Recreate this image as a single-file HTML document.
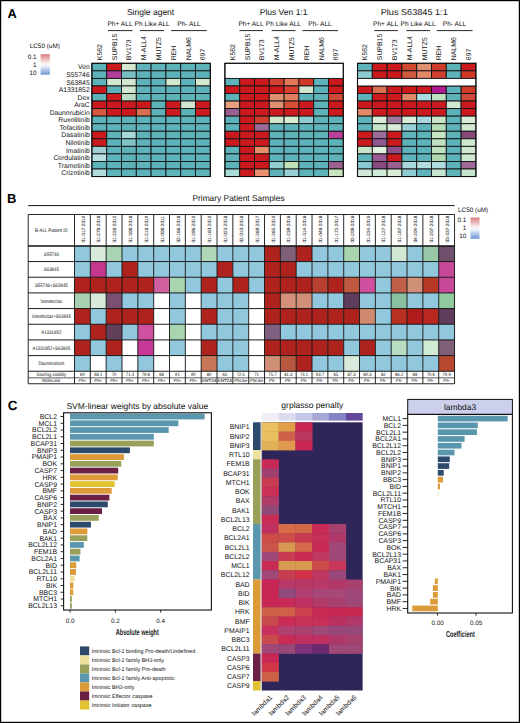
<!DOCTYPE html>
<html><head><meta charset="utf-8"><style>
html,body{margin:0;padding:0;background:#fff;}
body{width:520px;height:723px;overflow:hidden;}
svg{display:block;font-family:"Liberation Sans", sans-serif;text-rendering:geometricPrecision;}
</style></head><body>
<svg width="520" height="723" viewBox="0 0 520 723">
<rect x="0" y="0" width="520" height="723" fill="#fff"/>
<rect x="91.90" y="63.30" width="14.80" height="7.55" fill="#5eb3ba" stroke="#111" stroke-width="0.9"/>
<rect x="106.70" y="63.30" width="14.80" height="7.55" fill="#cb1a1d" stroke="#111" stroke-width="0.9"/>
<rect x="121.50" y="63.30" width="14.80" height="7.55" fill="#d3e7d0" stroke="#111" stroke-width="0.9"/>
<rect x="136.30" y="63.30" width="14.80" height="7.55" fill="#5eb3ba" stroke="#111" stroke-width="0.9"/>
<rect x="151.10" y="63.30" width="14.80" height="7.55" fill="#5eb3ba" stroke="#111" stroke-width="0.9"/>
<rect x="165.90" y="63.30" width="14.80" height="7.55" fill="#5eb3ba" stroke="#111" stroke-width="0.9"/>
<rect x="180.70" y="63.30" width="14.80" height="7.55" fill="#5eb3ba" stroke="#111" stroke-width="0.9"/>
<rect x="195.50" y="63.30" width="14.80" height="7.55" fill="#5eb3ba" stroke="#111" stroke-width="0.9"/>
<rect x="91.90" y="70.85" width="14.80" height="7.55" fill="#5eb3ba" stroke="#111" stroke-width="0.9"/>
<rect x="106.70" y="70.85" width="14.80" height="7.55" fill="#b0409a" stroke="#111" stroke-width="0.9"/>
<rect x="121.50" y="70.85" width="14.80" height="7.55" fill="#78bcc4" stroke="#111" stroke-width="0.9"/>
<rect x="136.30" y="70.85" width="14.80" height="7.55" fill="#5eb3ba" stroke="#111" stroke-width="0.9"/>
<rect x="151.10" y="70.85" width="14.80" height="7.55" fill="#5eb3ba" stroke="#111" stroke-width="0.9"/>
<rect x="165.90" y="70.85" width="14.80" height="7.55" fill="#5eb3ba" stroke="#111" stroke-width="0.9"/>
<rect x="180.70" y="70.85" width="14.80" height="7.55" fill="#5eb3ba" stroke="#111" stroke-width="0.9"/>
<rect x="195.50" y="70.85" width="14.80" height="7.55" fill="#5eb3ba" stroke="#111" stroke-width="0.9"/>
<rect x="91.90" y="78.40" width="14.80" height="7.55" fill="#5eb3ba" stroke="#111" stroke-width="0.9"/>
<rect x="106.70" y="78.40" width="14.80" height="7.55" fill="#d3e7d0" stroke="#111" stroke-width="0.9"/>
<rect x="121.50" y="78.40" width="14.80" height="7.55" fill="#d3e7d0" stroke="#111" stroke-width="0.9"/>
<rect x="136.30" y="78.40" width="14.80" height="7.55" fill="#5eb3ba" stroke="#111" stroke-width="0.9"/>
<rect x="151.10" y="78.40" width="14.80" height="7.55" fill="#5eb3ba" stroke="#111" stroke-width="0.9"/>
<rect x="165.90" y="78.40" width="14.80" height="7.55" fill="#d3e7d0" stroke="#111" stroke-width="0.9"/>
<rect x="180.70" y="78.40" width="14.80" height="7.55" fill="#5eb3ba" stroke="#111" stroke-width="0.9"/>
<rect x="195.50" y="78.40" width="14.80" height="7.55" fill="#d3e7d0" stroke="#111" stroke-width="0.9"/>
<rect x="91.90" y="85.95" width="14.80" height="7.55" fill="#cb1a1d" stroke="#111" stroke-width="0.9"/>
<rect x="106.70" y="85.95" width="14.80" height="7.55" fill="#5eb3ba" stroke="#111" stroke-width="0.9"/>
<rect x="121.50" y="85.95" width="14.80" height="7.55" fill="#d3e7d0" stroke="#111" stroke-width="0.9"/>
<rect x="136.30" y="85.95" width="14.80" height="7.55" fill="#5eb3ba" stroke="#111" stroke-width="0.9"/>
<rect x="151.10" y="85.95" width="14.80" height="7.55" fill="#5eb3ba" stroke="#111" stroke-width="0.9"/>
<rect x="165.90" y="85.95" width="14.80" height="7.55" fill="#5eb3ba" stroke="#111" stroke-width="0.9"/>
<rect x="180.70" y="85.95" width="14.80" height="7.55" fill="#5eb3ba" stroke="#111" stroke-width="0.9"/>
<rect x="195.50" y="85.95" width="14.80" height="7.55" fill="#5eb3ba" stroke="#111" stroke-width="0.9"/>
<rect x="91.90" y="93.50" width="14.80" height="7.55" fill="#5eb3ba" stroke="#111" stroke-width="0.9"/>
<rect x="106.70" y="93.50" width="14.80" height="7.55" fill="#cb1a1d" stroke="#111" stroke-width="0.9"/>
<rect x="121.50" y="93.50" width="14.80" height="7.55" fill="#bcdcc2" stroke="#111" stroke-width="0.9"/>
<rect x="136.30" y="93.50" width="14.80" height="7.55" fill="#5eb3ba" stroke="#111" stroke-width="0.9"/>
<rect x="151.10" y="93.50" width="14.80" height="7.55" fill="#5eb3ba" stroke="#111" stroke-width="0.9"/>
<rect x="165.90" y="93.50" width="14.80" height="7.55" fill="#5eb3ba" stroke="#111" stroke-width="0.9"/>
<rect x="180.70" y="93.50" width="14.80" height="7.55" fill="#5eb3ba" stroke="#111" stroke-width="0.9"/>
<rect x="195.50" y="93.50" width="14.80" height="7.55" fill="#5eb3ba" stroke="#111" stroke-width="0.9"/>
<rect x="91.90" y="101.05" width="14.80" height="7.55" fill="#cb1a1d" stroke="#111" stroke-width="0.9"/>
<rect x="106.70" y="101.05" width="14.80" height="7.55" fill="#cb1a1d" stroke="#111" stroke-width="0.9"/>
<rect x="121.50" y="101.05" width="14.80" height="7.55" fill="#cb1a1d" stroke="#111" stroke-width="0.9"/>
<rect x="136.30" y="101.05" width="14.80" height="7.55" fill="#cb1a1d" stroke="#111" stroke-width="0.9"/>
<rect x="151.10" y="101.05" width="14.80" height="7.55" fill="#5eb3ba" stroke="#111" stroke-width="0.9"/>
<rect x="165.90" y="101.05" width="14.80" height="7.55" fill="#cb1a1d" stroke="#111" stroke-width="0.9"/>
<rect x="180.70" y="101.05" width="14.80" height="7.55" fill="#d3e7d0" stroke="#111" stroke-width="0.9"/>
<rect x="195.50" y="101.05" width="14.80" height="7.55" fill="#cb1a1d" stroke="#111" stroke-width="0.9"/>
<rect x="91.90" y="108.60" width="14.80" height="7.55" fill="#d65a40" stroke="#111" stroke-width="0.9"/>
<rect x="106.70" y="108.60" width="14.80" height="7.55" fill="#cb1a1d" stroke="#111" stroke-width="0.9"/>
<rect x="121.50" y="108.60" width="14.80" height="7.55" fill="#cb1a1d" stroke="#111" stroke-width="0.9"/>
<rect x="136.30" y="108.60" width="14.80" height="7.55" fill="#d87050" stroke="#111" stroke-width="0.9"/>
<rect x="151.10" y="108.60" width="14.80" height="7.55" fill="#5eb3ba" stroke="#111" stroke-width="0.9"/>
<rect x="165.90" y="108.60" width="14.80" height="7.55" fill="#cb1a1d" stroke="#111" stroke-width="0.9"/>
<rect x="180.70" y="108.60" width="14.80" height="7.55" fill="#5eb3ba" stroke="#111" stroke-width="0.9"/>
<rect x="195.50" y="108.60" width="14.80" height="7.55" fill="#cb1a1d" stroke="#111" stroke-width="0.9"/>
<rect x="91.90" y="116.15" width="14.80" height="7.55" fill="#5eb3ba" stroke="#111" stroke-width="0.9"/>
<rect x="106.70" y="116.15" width="14.80" height="7.55" fill="#5eb3ba" stroke="#111" stroke-width="0.9"/>
<rect x="121.50" y="116.15" width="14.80" height="7.55" fill="#5eb3ba" stroke="#111" stroke-width="0.9"/>
<rect x="136.30" y="116.15" width="14.80" height="7.55" fill="#5eb3ba" stroke="#111" stroke-width="0.9"/>
<rect x="151.10" y="116.15" width="14.80" height="7.55" fill="#5eb3ba" stroke="#111" stroke-width="0.9"/>
<rect x="165.90" y="116.15" width="14.80" height="7.55" fill="#5eb3ba" stroke="#111" stroke-width="0.9"/>
<rect x="180.70" y="116.15" width="14.80" height="7.55" fill="#5eb3ba" stroke="#111" stroke-width="0.9"/>
<rect x="195.50" y="116.15" width="14.80" height="7.55" fill="#5eb3ba" stroke="#111" stroke-width="0.9"/>
<rect x="91.90" y="123.70" width="14.80" height="7.55" fill="#5eb3ba" stroke="#111" stroke-width="0.9"/>
<rect x="106.70" y="123.70" width="14.80" height="7.55" fill="#5eb3ba" stroke="#111" stroke-width="0.9"/>
<rect x="121.50" y="123.70" width="14.80" height="7.55" fill="#5eb3ba" stroke="#111" stroke-width="0.9"/>
<rect x="136.30" y="123.70" width="14.80" height="7.55" fill="#5eb3ba" stroke="#111" stroke-width="0.9"/>
<rect x="151.10" y="123.70" width="14.80" height="7.55" fill="#5eb3ba" stroke="#111" stroke-width="0.9"/>
<rect x="165.90" y="123.70" width="14.80" height="7.55" fill="#5eb3ba" stroke="#111" stroke-width="0.9"/>
<rect x="180.70" y="123.70" width="14.80" height="7.55" fill="#5eb3ba" stroke="#111" stroke-width="0.9"/>
<rect x="195.50" y="123.70" width="14.80" height="7.55" fill="#5eb3ba" stroke="#111" stroke-width="0.9"/>
<rect x="91.90" y="131.25" width="14.80" height="7.55" fill="#cb1a1d" stroke="#111" stroke-width="0.9"/>
<rect x="106.70" y="131.25" width="14.80" height="7.55" fill="#5eb3ba" stroke="#111" stroke-width="0.9"/>
<rect x="121.50" y="131.25" width="14.80" height="7.55" fill="#a8d8d8" stroke="#111" stroke-width="0.9"/>
<rect x="136.30" y="131.25" width="14.80" height="7.55" fill="#5eb3ba" stroke="#111" stroke-width="0.9"/>
<rect x="151.10" y="131.25" width="14.80" height="7.55" fill="#5eb3ba" stroke="#111" stroke-width="0.9"/>
<rect x="165.90" y="131.25" width="14.80" height="7.55" fill="#5eb3ba" stroke="#111" stroke-width="0.9"/>
<rect x="180.70" y="131.25" width="14.80" height="7.55" fill="#5eb3ba" stroke="#111" stroke-width="0.9"/>
<rect x="195.50" y="131.25" width="14.80" height="7.55" fill="#5eb3ba" stroke="#111" stroke-width="0.9"/>
<rect x="91.90" y="138.80" width="14.80" height="7.55" fill="#cb1a1d" stroke="#111" stroke-width="0.9"/>
<rect x="106.70" y="138.80" width="14.80" height="7.55" fill="#5eb3ba" stroke="#111" stroke-width="0.9"/>
<rect x="121.50" y="138.80" width="14.80" height="7.55" fill="#80c4c8" stroke="#111" stroke-width="0.9"/>
<rect x="136.30" y="138.80" width="14.80" height="7.55" fill="#5eb3ba" stroke="#111" stroke-width="0.9"/>
<rect x="151.10" y="138.80" width="14.80" height="7.55" fill="#5eb3ba" stroke="#111" stroke-width="0.9"/>
<rect x="165.90" y="138.80" width="14.80" height="7.55" fill="#5eb3ba" stroke="#111" stroke-width="0.9"/>
<rect x="180.70" y="138.80" width="14.80" height="7.55" fill="#5eb3ba" stroke="#111" stroke-width="0.9"/>
<rect x="195.50" y="138.80" width="14.80" height="7.55" fill="#5eb3ba" stroke="#111" stroke-width="0.9"/>
<rect x="91.90" y="146.35" width="14.80" height="7.55" fill="#a0d0d4" stroke="#111" stroke-width="0.9"/>
<rect x="106.70" y="146.35" width="14.80" height="7.55" fill="#5eb3ba" stroke="#111" stroke-width="0.9"/>
<rect x="121.50" y="146.35" width="14.80" height="7.55" fill="#5eb3ba" stroke="#111" stroke-width="0.9"/>
<rect x="136.30" y="146.35" width="14.80" height="7.55" fill="#5eb3ba" stroke="#111" stroke-width="0.9"/>
<rect x="151.10" y="146.35" width="14.80" height="7.55" fill="#5eb3ba" stroke="#111" stroke-width="0.9"/>
<rect x="165.90" y="146.35" width="14.80" height="7.55" fill="#5eb3ba" stroke="#111" stroke-width="0.9"/>
<rect x="180.70" y="146.35" width="14.80" height="7.55" fill="#5eb3ba" stroke="#111" stroke-width="0.9"/>
<rect x="195.50" y="146.35" width="14.80" height="7.55" fill="#5eb3ba" stroke="#111" stroke-width="0.9"/>
<rect x="91.90" y="153.90" width="14.80" height="7.55" fill="#b8e0e0" stroke="#111" stroke-width="0.9"/>
<rect x="106.70" y="153.90" width="14.80" height="7.55" fill="#5eb3ba" stroke="#111" stroke-width="0.9"/>
<rect x="121.50" y="153.90" width="14.80" height="7.55" fill="#5eb3ba" stroke="#111" stroke-width="0.9"/>
<rect x="136.30" y="153.90" width="14.80" height="7.55" fill="#5eb3ba" stroke="#111" stroke-width="0.9"/>
<rect x="151.10" y="153.90" width="14.80" height="7.55" fill="#5eb3ba" stroke="#111" stroke-width="0.9"/>
<rect x="165.90" y="153.90" width="14.80" height="7.55" fill="#5eb3ba" stroke="#111" stroke-width="0.9"/>
<rect x="180.70" y="153.90" width="14.80" height="7.55" fill="#5eb3ba" stroke="#111" stroke-width="0.9"/>
<rect x="195.50" y="153.90" width="14.80" height="7.55" fill="#5eb3ba" stroke="#111" stroke-width="0.9"/>
<rect x="91.90" y="161.45" width="14.80" height="7.55" fill="#5eb3ba" stroke="#111" stroke-width="0.9"/>
<rect x="106.70" y="161.45" width="14.80" height="7.55" fill="#5eb3ba" stroke="#111" stroke-width="0.9"/>
<rect x="121.50" y="161.45" width="14.80" height="7.55" fill="#5eb3ba" stroke="#111" stroke-width="0.9"/>
<rect x="136.30" y="161.45" width="14.80" height="7.55" fill="#5eb3ba" stroke="#111" stroke-width="0.9"/>
<rect x="151.10" y="161.45" width="14.80" height="7.55" fill="#5eb3ba" stroke="#111" stroke-width="0.9"/>
<rect x="165.90" y="161.45" width="14.80" height="7.55" fill="#5eb3ba" stroke="#111" stroke-width="0.9"/>
<rect x="180.70" y="161.45" width="14.80" height="7.55" fill="#5eb3ba" stroke="#111" stroke-width="0.9"/>
<rect x="195.50" y="161.45" width="14.80" height="7.55" fill="#5eb3ba" stroke="#111" stroke-width="0.9"/>
<rect x="91.90" y="169.00" width="14.80" height="7.55" fill="#b0dcdc" stroke="#111" stroke-width="0.9"/>
<rect x="106.70" y="169.00" width="14.80" height="7.55" fill="#5eb3ba" stroke="#111" stroke-width="0.9"/>
<rect x="121.50" y="169.00" width="14.80" height="7.55" fill="#5eb3ba" stroke="#111" stroke-width="0.9"/>
<rect x="136.30" y="169.00" width="14.80" height="7.55" fill="#5eb3ba" stroke="#111" stroke-width="0.9"/>
<rect x="151.10" y="169.00" width="14.80" height="7.55" fill="#5eb3ba" stroke="#111" stroke-width="0.9"/>
<rect x="165.90" y="169.00" width="14.80" height="7.55" fill="#5eb3ba" stroke="#111" stroke-width="0.9"/>
<rect x="180.70" y="169.00" width="14.80" height="7.55" fill="#5eb3ba" stroke="#111" stroke-width="0.9"/>
<rect x="195.50" y="169.00" width="14.80" height="7.55" fill="#5eb3ba" stroke="#111" stroke-width="0.9"/>
<rect x="91.90" y="63.30" width="118.40" height="113.25" fill="none" stroke="#111" stroke-width="1.1"/>
<text x="150.60" y="14.80" font-size="8.5" text-anchor="middle" fill="#111" font-weight="normal">Single agent</text>
<text x="101.80" y="60.20" font-size="6.9" text-anchor="start" fill="#111" font-weight="normal" transform="rotate(-90 101.80 60.2)">K562</text>
<text x="116.60" y="60.20" font-size="6.9" text-anchor="start" fill="#111" font-weight="normal" transform="rotate(-90 116.60 60.2)">SUPB15</text>
<text x="131.40" y="60.20" font-size="6.9" text-anchor="start" fill="#111" font-weight="normal" transform="rotate(-90 131.40 60.2)">BV173</text>
<text x="146.20" y="60.20" font-size="6.9" text-anchor="start" fill="#111" font-weight="normal" transform="rotate(-90 146.20 60.2)">M-ALL4</text>
<text x="161.00" y="60.20" font-size="6.9" text-anchor="start" fill="#111" font-weight="normal" transform="rotate(-90 161.00 60.2)">MUTZ5</text>
<text x="175.80" y="60.20" font-size="6.9" text-anchor="start" fill="#111" font-weight="normal" transform="rotate(-90 175.80 60.2)">REH</text>
<text x="190.60" y="60.20" font-size="6.9" text-anchor="start" fill="#111" font-weight="normal" transform="rotate(-90 190.60 60.2)">NALM6</text>
<text x="205.40" y="60.20" font-size="6.9" text-anchor="start" fill="#111" font-weight="normal" transform="rotate(-90 205.40 60.2)">697</text>
<rect x="224.90" y="78.40" width="14.80" height="7.55" fill="#5eb3ba" stroke="#111" stroke-width="0.9"/>
<rect x="239.70" y="78.40" width="14.80" height="7.55" fill="#cb1a1d" stroke="#111" stroke-width="0.9"/>
<rect x="254.50" y="78.40" width="14.80" height="7.55" fill="#cb1a1d" stroke="#111" stroke-width="0.9"/>
<rect x="269.30" y="78.40" width="14.80" height="7.55" fill="#d04030" stroke="#111" stroke-width="0.9"/>
<rect x="284.10" y="78.40" width="14.80" height="7.55" fill="#e07858" stroke="#111" stroke-width="0.9"/>
<rect x="298.90" y="78.40" width="14.80" height="7.55" fill="#d03828" stroke="#111" stroke-width="0.9"/>
<rect x="313.70" y="78.40" width="14.80" height="7.55" fill="#5eb3ba" stroke="#111" stroke-width="0.9"/>
<rect x="328.50" y="78.40" width="14.80" height="7.55" fill="#cb1a1d" stroke="#111" stroke-width="0.9"/>
<rect x="224.90" y="85.95" width="14.80" height="7.55" fill="#cb1a1d" stroke="#111" stroke-width="0.9"/>
<rect x="239.70" y="85.95" width="14.80" height="7.55" fill="#cb1a1d" stroke="#111" stroke-width="0.9"/>
<rect x="254.50" y="85.95" width="14.80" height="7.55" fill="#cb1a1d" stroke="#111" stroke-width="0.9"/>
<rect x="269.30" y="85.95" width="14.80" height="7.55" fill="#cb1a1d" stroke="#111" stroke-width="0.9"/>
<rect x="284.10" y="85.95" width="14.80" height="7.55" fill="#d84030" stroke="#111" stroke-width="0.9"/>
<rect x="298.90" y="85.95" width="14.80" height="7.55" fill="#d3e7d0" stroke="#111" stroke-width="0.9"/>
<rect x="313.70" y="85.95" width="14.80" height="7.55" fill="#5eb3ba" stroke="#111" stroke-width="0.9"/>
<rect x="328.50" y="85.95" width="14.80" height="7.55" fill="#cb1a1d" stroke="#111" stroke-width="0.9"/>
<rect x="224.90" y="93.50" width="14.80" height="7.55" fill="#5eb3ba" stroke="#111" stroke-width="0.9"/>
<rect x="239.70" y="93.50" width="14.80" height="7.55" fill="#cb1a1d" stroke="#111" stroke-width="0.9"/>
<rect x="254.50" y="93.50" width="14.80" height="7.55" fill="#cb1a1d" stroke="#111" stroke-width="0.9"/>
<rect x="269.30" y="93.50" width="14.80" height="7.55" fill="#e09070" stroke="#111" stroke-width="0.9"/>
<rect x="284.10" y="93.50" width="14.80" height="7.55" fill="#e08060" stroke="#111" stroke-width="0.9"/>
<rect x="298.90" y="93.50" width="14.80" height="7.55" fill="#5eb3ba" stroke="#111" stroke-width="0.9"/>
<rect x="313.70" y="93.50" width="14.80" height="7.55" fill="#5eb3ba" stroke="#111" stroke-width="0.9"/>
<rect x="328.50" y="93.50" width="14.80" height="7.55" fill="#d04838" stroke="#111" stroke-width="0.9"/>
<rect x="224.90" y="101.05" width="14.80" height="7.55" fill="#e8a080" stroke="#111" stroke-width="0.9"/>
<rect x="239.70" y="101.05" width="14.80" height="7.55" fill="#cb1a1d" stroke="#111" stroke-width="0.9"/>
<rect x="254.50" y="101.05" width="14.80" height="7.55" fill="#cb1a1d" stroke="#111" stroke-width="0.9"/>
<rect x="269.30" y="101.05" width="14.80" height="7.55" fill="#e09070" stroke="#111" stroke-width="0.9"/>
<rect x="284.10" y="101.05" width="14.80" height="7.55" fill="#d85038" stroke="#111" stroke-width="0.9"/>
<rect x="298.90" y="101.05" width="14.80" height="7.55" fill="#cb1a1d" stroke="#111" stroke-width="0.9"/>
<rect x="313.70" y="101.05" width="14.80" height="7.55" fill="#5eb3ba" stroke="#111" stroke-width="0.9"/>
<rect x="328.50" y="101.05" width="14.80" height="7.55" fill="#cb1a1d" stroke="#111" stroke-width="0.9"/>
<rect x="224.90" y="108.60" width="14.80" height="7.55" fill="#9a6090" stroke="#111" stroke-width="0.9"/>
<rect x="239.70" y="108.60" width="14.80" height="7.55" fill="#cb1a1d" stroke="#111" stroke-width="0.9"/>
<rect x="254.50" y="108.60" width="14.80" height="7.55" fill="#cb1a1d" stroke="#111" stroke-width="0.9"/>
<rect x="269.30" y="108.60" width="14.80" height="7.55" fill="#cb1a1d" stroke="#111" stroke-width="0.9"/>
<rect x="284.10" y="108.60" width="14.80" height="7.55" fill="#cb1a1d" stroke="#111" stroke-width="0.9"/>
<rect x="298.90" y="108.60" width="14.80" height="7.55" fill="#cb1a1d" stroke="#111" stroke-width="0.9"/>
<rect x="313.70" y="108.60" width="14.80" height="7.55" fill="#5eb3ba" stroke="#111" stroke-width="0.9"/>
<rect x="328.50" y="108.60" width="14.80" height="7.55" fill="#cb1a1d" stroke="#111" stroke-width="0.9"/>
<rect x="224.90" y="116.15" width="14.80" height="7.55" fill="#5eb3ba" stroke="#111" stroke-width="0.9"/>
<rect x="239.70" y="116.15" width="14.80" height="7.55" fill="#cb1a1d" stroke="#111" stroke-width="0.9"/>
<rect x="254.50" y="116.15" width="14.80" height="7.55" fill="#d04030" stroke="#111" stroke-width="0.9"/>
<rect x="269.30" y="116.15" width="14.80" height="7.55" fill="#d0e8c8" stroke="#111" stroke-width="0.9"/>
<rect x="284.10" y="116.15" width="14.80" height="7.55" fill="#d8ecd0" stroke="#111" stroke-width="0.9"/>
<rect x="298.90" y="116.15" width="14.80" height="7.55" fill="#90ccd0" stroke="#111" stroke-width="0.9"/>
<rect x="313.70" y="116.15" width="14.80" height="7.55" fill="#5eb3ba" stroke="#111" stroke-width="0.9"/>
<rect x="328.50" y="116.15" width="14.80" height="7.55" fill="#5eb3ba" stroke="#111" stroke-width="0.9"/>
<rect x="224.90" y="123.70" width="14.80" height="7.55" fill="#5eb3ba" stroke="#111" stroke-width="0.9"/>
<rect x="239.70" y="123.70" width="14.80" height="7.55" fill="#cb1a1d" stroke="#111" stroke-width="0.9"/>
<rect x="254.50" y="123.70" width="14.80" height="7.55" fill="#9a6a98" stroke="#111" stroke-width="0.9"/>
<rect x="269.30" y="123.70" width="14.80" height="7.55" fill="#5eb3ba" stroke="#111" stroke-width="0.9"/>
<rect x="284.10" y="123.70" width="14.80" height="7.55" fill="#5eb3ba" stroke="#111" stroke-width="0.9"/>
<rect x="298.90" y="123.70" width="14.80" height="7.55" fill="#5eb3ba" stroke="#111" stroke-width="0.9"/>
<rect x="313.70" y="123.70" width="14.80" height="7.55" fill="#5eb3ba" stroke="#111" stroke-width="0.9"/>
<rect x="328.50" y="123.70" width="14.80" height="7.55" fill="#5eb3ba" stroke="#111" stroke-width="0.9"/>
<rect x="224.90" y="131.25" width="14.80" height="7.55" fill="#cb1a1d" stroke="#111" stroke-width="0.9"/>
<rect x="239.70" y="131.25" width="14.80" height="7.55" fill="#cb1a1d" stroke="#111" stroke-width="0.9"/>
<rect x="254.50" y="131.25" width="14.80" height="7.55" fill="#cb1a1d" stroke="#111" stroke-width="0.9"/>
<rect x="269.30" y="131.25" width="14.80" height="7.55" fill="#5eb3ba" stroke="#111" stroke-width="0.9"/>
<rect x="284.10" y="131.25" width="14.80" height="7.55" fill="#5eb3ba" stroke="#111" stroke-width="0.9"/>
<rect x="298.90" y="131.25" width="14.80" height="7.55" fill="#5eb3ba" stroke="#111" stroke-width="0.9"/>
<rect x="313.70" y="131.25" width="14.80" height="7.55" fill="#5eb3ba" stroke="#111" stroke-width="0.9"/>
<rect x="328.50" y="131.25" width="14.80" height="7.55" fill="#b8409a" stroke="#111" stroke-width="0.9"/>
<rect x="224.90" y="138.80" width="14.80" height="7.55" fill="#cb1a1d" stroke="#111" stroke-width="0.9"/>
<rect x="239.70" y="138.80" width="14.80" height="7.55" fill="#cb1a1d" stroke="#111" stroke-width="0.9"/>
<rect x="254.50" y="138.80" width="14.80" height="7.55" fill="#cb1a1d" stroke="#111" stroke-width="0.9"/>
<rect x="269.30" y="138.80" width="14.80" height="7.55" fill="#5eb3ba" stroke="#111" stroke-width="0.9"/>
<rect x="284.10" y="138.80" width="14.80" height="7.55" fill="#5eb3ba" stroke="#111" stroke-width="0.9"/>
<rect x="298.90" y="138.80" width="14.80" height="7.55" fill="#5eb3ba" stroke="#111" stroke-width="0.9"/>
<rect x="313.70" y="138.80" width="14.80" height="7.55" fill="#5eb3ba" stroke="#111" stroke-width="0.9"/>
<rect x="328.50" y="138.80" width="14.80" height="7.55" fill="#5eb3ba" stroke="#111" stroke-width="0.9"/>
<rect x="224.90" y="146.35" width="14.80" height="7.55" fill="#5eb3ba" stroke="#111" stroke-width="0.9"/>
<rect x="239.70" y="146.35" width="14.80" height="7.55" fill="#cb1a1d" stroke="#111" stroke-width="0.9"/>
<rect x="254.50" y="146.35" width="14.80" height="7.55" fill="#e8906a" stroke="#111" stroke-width="0.9"/>
<rect x="269.30" y="146.35" width="14.80" height="7.55" fill="#5eb3ba" stroke="#111" stroke-width="0.9"/>
<rect x="284.10" y="146.35" width="14.80" height="7.55" fill="#5eb3ba" stroke="#111" stroke-width="0.9"/>
<rect x="298.90" y="146.35" width="14.80" height="7.55" fill="#5eb3ba" stroke="#111" stroke-width="0.9"/>
<rect x="313.70" y="146.35" width="14.80" height="7.55" fill="#5eb3ba" stroke="#111" stroke-width="0.9"/>
<rect x="328.50" y="146.35" width="14.80" height="7.55" fill="#5eb3ba" stroke="#111" stroke-width="0.9"/>
<rect x="224.90" y="153.90" width="14.80" height="7.55" fill="#5eb3ba" stroke="#111" stroke-width="0.9"/>
<rect x="239.70" y="153.90" width="14.80" height="7.55" fill="#cb1a1d" stroke="#111" stroke-width="0.9"/>
<rect x="254.50" y="153.90" width="14.80" height="7.55" fill="#cb1a1d" stroke="#111" stroke-width="0.9"/>
<rect x="269.30" y="153.90" width="14.80" height="7.55" fill="#5eb3ba" stroke="#111" stroke-width="0.9"/>
<rect x="284.10" y="153.90" width="14.80" height="7.55" fill="#5eb3ba" stroke="#111" stroke-width="0.9"/>
<rect x="298.90" y="153.90" width="14.80" height="7.55" fill="#5eb3ba" stroke="#111" stroke-width="0.9"/>
<rect x="313.70" y="153.90" width="14.80" height="7.55" fill="#5eb3ba" stroke="#111" stroke-width="0.9"/>
<rect x="328.50" y="153.90" width="14.80" height="7.55" fill="#5eb3ba" stroke="#111" stroke-width="0.9"/>
<rect x="224.90" y="161.45" width="14.80" height="7.55" fill="#5eb3ba" stroke="#111" stroke-width="0.9"/>
<rect x="239.70" y="161.45" width="14.80" height="7.55" fill="#cb1a1d" stroke="#111" stroke-width="0.9"/>
<rect x="254.50" y="161.45" width="14.80" height="7.55" fill="#cb1a1d" stroke="#111" stroke-width="0.9"/>
<rect x="269.30" y="161.45" width="14.80" height="7.55" fill="#90d0d0" stroke="#111" stroke-width="0.9"/>
<rect x="284.10" y="161.45" width="14.80" height="7.55" fill="#c0e0b8" stroke="#111" stroke-width="0.9"/>
<rect x="298.90" y="161.45" width="14.80" height="7.55" fill="#5eb3ba" stroke="#111" stroke-width="0.9"/>
<rect x="313.70" y="161.45" width="14.80" height="7.55" fill="#5eb3ba" stroke="#111" stroke-width="0.9"/>
<rect x="328.50" y="161.45" width="14.80" height="7.55" fill="#9a6090" stroke="#111" stroke-width="0.9"/>
<rect x="224.90" y="169.00" width="14.80" height="7.55" fill="#a8dcd8" stroke="#111" stroke-width="0.9"/>
<rect x="239.70" y="169.00" width="14.80" height="7.55" fill="#cb1a1d" stroke="#111" stroke-width="0.9"/>
<rect x="254.50" y="169.00" width="14.80" height="7.55" fill="#e89070" stroke="#111" stroke-width="0.9"/>
<rect x="269.30" y="169.00" width="14.80" height="7.55" fill="#5eb3ba" stroke="#111" stroke-width="0.9"/>
<rect x="284.10" y="169.00" width="14.80" height="7.55" fill="#98d0d4" stroke="#111" stroke-width="0.9"/>
<rect x="298.90" y="169.00" width="14.80" height="7.55" fill="#5eb3ba" stroke="#111" stroke-width="0.9"/>
<rect x="313.70" y="169.00" width="14.80" height="7.55" fill="#5eb3ba" stroke="#111" stroke-width="0.9"/>
<rect x="328.50" y="169.00" width="14.80" height="7.55" fill="#c8e4c0" stroke="#111" stroke-width="0.9"/>
<rect x="224.90" y="63.30" width="118.40" height="15.10" fill="#ffffff" stroke="#111" stroke-width="0.9"/>
<rect x="224.90" y="63.30" width="118.40" height="113.25" fill="none" stroke="#111" stroke-width="1.1"/>
<text x="283.60" y="14.80" font-size="8.5" text-anchor="middle" fill="#111" font-weight="normal">Plus Ven 1:1</text>
<text x="234.80" y="60.20" font-size="6.9" text-anchor="start" fill="#111" font-weight="normal" transform="rotate(-90 234.80 60.2)">K562</text>
<text x="249.60" y="60.20" font-size="6.9" text-anchor="start" fill="#111" font-weight="normal" transform="rotate(-90 249.60 60.2)">SUPB15</text>
<text x="264.40" y="60.20" font-size="6.9" text-anchor="start" fill="#111" font-weight="normal" transform="rotate(-90 264.40 60.2)">BV173</text>
<text x="279.20" y="60.20" font-size="6.9" text-anchor="start" fill="#111" font-weight="normal" transform="rotate(-90 279.20 60.2)">M-ALL4</text>
<text x="294.00" y="60.20" font-size="6.9" text-anchor="start" fill="#111" font-weight="normal" transform="rotate(-90 294.00 60.2)">MUTZ5</text>
<text x="308.80" y="60.20" font-size="6.9" text-anchor="start" fill="#111" font-weight="normal" transform="rotate(-90 308.80 60.2)">REH</text>
<text x="323.60" y="60.20" font-size="6.9" text-anchor="start" fill="#111" font-weight="normal" transform="rotate(-90 323.60 60.2)">NALM6</text>
<text x="338.40" y="60.20" font-size="6.9" text-anchor="start" fill="#111" font-weight="normal" transform="rotate(-90 338.40 60.2)">697</text>
<rect x="357.50" y="63.30" width="14.80" height="7.55" fill="#5eb3ba" stroke="#111" stroke-width="0.9"/>
<rect x="372.30" y="63.30" width="14.80" height="7.55" fill="#cb1a1d" stroke="#111" stroke-width="0.9"/>
<rect x="387.10" y="63.30" width="14.80" height="7.55" fill="#cb1a1d" stroke="#111" stroke-width="0.9"/>
<rect x="401.90" y="63.30" width="14.80" height="7.55" fill="#d04a30" stroke="#111" stroke-width="0.9"/>
<rect x="416.70" y="63.30" width="14.80" height="7.55" fill="#e09070" stroke="#111" stroke-width="0.9"/>
<rect x="431.50" y="63.30" width="14.80" height="7.55" fill="#d03a28" stroke="#111" stroke-width="0.9"/>
<rect x="446.30" y="63.30" width="14.80" height="7.55" fill="#5eb3ba" stroke="#111" stroke-width="0.9"/>
<rect x="461.10" y="63.30" width="14.80" height="7.55" fill="#cb1a1d" stroke="#111" stroke-width="0.9"/>
<rect x="357.50" y="70.85" width="14.80" height="7.55" fill="#8ccbd0" stroke="#111" stroke-width="0.9"/>
<rect x="372.30" y="70.85" width="14.80" height="7.55" fill="#cb1a1d" stroke="#111" stroke-width="0.9"/>
<rect x="387.10" y="70.85" width="14.80" height="7.55" fill="#cb1a1d" stroke="#111" stroke-width="0.9"/>
<rect x="401.90" y="70.85" width="14.80" height="7.55" fill="#d05a40" stroke="#111" stroke-width="0.9"/>
<rect x="416.70" y="70.85" width="14.80" height="7.55" fill="#e08868" stroke="#111" stroke-width="0.9"/>
<rect x="431.50" y="70.85" width="14.80" height="7.55" fill="#d04030" stroke="#111" stroke-width="0.9"/>
<rect x="446.30" y="70.85" width="14.80" height="7.55" fill="#5eb3ba" stroke="#111" stroke-width="0.9"/>
<rect x="461.10" y="70.85" width="14.80" height="7.55" fill="#d03828" stroke="#111" stroke-width="0.9"/>
<rect x="357.50" y="85.95" width="14.80" height="7.55" fill="#cb1a1d" stroke="#111" stroke-width="0.9"/>
<rect x="372.30" y="85.95" width="14.80" height="7.55" fill="#d87050" stroke="#111" stroke-width="0.9"/>
<rect x="387.10" y="85.95" width="14.80" height="7.55" fill="#cb1a1d" stroke="#111" stroke-width="0.9"/>
<rect x="401.90" y="85.95" width="14.80" height="7.55" fill="#cb1a1d" stroke="#111" stroke-width="0.9"/>
<rect x="416.70" y="85.95" width="14.80" height="7.55" fill="#cb1a1d" stroke="#111" stroke-width="0.9"/>
<rect x="431.50" y="85.95" width="14.80" height="7.55" fill="#b01a90" stroke="#111" stroke-width="0.9"/>
<rect x="446.30" y="85.95" width="14.80" height="7.55" fill="#5eb3ba" stroke="#111" stroke-width="0.9"/>
<rect x="461.10" y="85.95" width="14.80" height="7.55" fill="#d03a28" stroke="#111" stroke-width="0.9"/>
<rect x="357.50" y="93.50" width="14.80" height="7.55" fill="#5eb3ba" stroke="#111" stroke-width="0.9"/>
<rect x="372.30" y="93.50" width="14.80" height="7.55" fill="#cb1a1d" stroke="#111" stroke-width="0.9"/>
<rect x="387.10" y="93.50" width="14.80" height="7.55" fill="#cb1a1d" stroke="#111" stroke-width="0.9"/>
<rect x="401.90" y="93.50" width="14.80" height="7.55" fill="#e08868" stroke="#111" stroke-width="0.9"/>
<rect x="416.70" y="93.50" width="14.80" height="7.55" fill="#a8dce0" stroke="#111" stroke-width="0.9"/>
<rect x="431.50" y="93.50" width="14.80" height="7.55" fill="#c0e0c0" stroke="#111" stroke-width="0.9"/>
<rect x="446.30" y="93.50" width="14.80" height="7.55" fill="#5eb3ba" stroke="#111" stroke-width="0.9"/>
<rect x="461.10" y="93.50" width="14.80" height="7.55" fill="#d04838" stroke="#111" stroke-width="0.9"/>
<rect x="357.50" y="101.05" width="14.80" height="7.55" fill="#cb1a1d" stroke="#111" stroke-width="0.9"/>
<rect x="372.30" y="101.05" width="14.80" height="7.55" fill="#cb1a1d" stroke="#111" stroke-width="0.9"/>
<rect x="387.10" y="101.05" width="14.80" height="7.55" fill="#cb1a1d" stroke="#111" stroke-width="0.9"/>
<rect x="401.90" y="101.05" width="14.80" height="7.55" fill="#cb1a1d" stroke="#111" stroke-width="0.9"/>
<rect x="416.70" y="101.05" width="14.80" height="7.55" fill="#cb1a1d" stroke="#111" stroke-width="0.9"/>
<rect x="431.50" y="101.05" width="14.80" height="7.55" fill="#cb1a1d" stroke="#111" stroke-width="0.9"/>
<rect x="446.30" y="101.05" width="14.80" height="7.55" fill="#d0e8d0" stroke="#111" stroke-width="0.9"/>
<rect x="461.10" y="101.05" width="14.80" height="7.55" fill="#cb1a1d" stroke="#111" stroke-width="0.9"/>
<rect x="357.50" y="108.60" width="14.80" height="7.55" fill="#e08868" stroke="#111" stroke-width="0.9"/>
<rect x="372.30" y="108.60" width="14.80" height="7.55" fill="#cb1a1d" stroke="#111" stroke-width="0.9"/>
<rect x="387.10" y="108.60" width="14.80" height="7.55" fill="#cb1a1d" stroke="#111" stroke-width="0.9"/>
<rect x="401.90" y="108.60" width="14.80" height="7.55" fill="#cb1a1d" stroke="#111" stroke-width="0.9"/>
<rect x="416.70" y="108.60" width="14.80" height="7.55" fill="#cb1a1d" stroke="#111" stroke-width="0.9"/>
<rect x="431.50" y="108.60" width="14.80" height="7.55" fill="#cb1a1d" stroke="#111" stroke-width="0.9"/>
<rect x="446.30" y="108.60" width="14.80" height="7.55" fill="#5eb3ba" stroke="#111" stroke-width="0.9"/>
<rect x="461.10" y="108.60" width="14.80" height="7.55" fill="#cb1a1d" stroke="#111" stroke-width="0.9"/>
<rect x="357.50" y="116.15" width="14.80" height="7.55" fill="#5eb3ba" stroke="#111" stroke-width="0.9"/>
<rect x="372.30" y="116.15" width="14.80" height="7.55" fill="#d8ecd8" stroke="#111" stroke-width="0.9"/>
<rect x="387.10" y="116.15" width="14.80" height="7.55" fill="#a07aa0" stroke="#111" stroke-width="0.9"/>
<rect x="401.90" y="116.15" width="14.80" height="7.55" fill="#d8ecd8" stroke="#111" stroke-width="0.9"/>
<rect x="416.70" y="116.15" width="14.80" height="7.55" fill="#a8d8dc" stroke="#111" stroke-width="0.9"/>
<rect x="431.50" y="116.15" width="14.80" height="7.55" fill="#c8e4c8" stroke="#111" stroke-width="0.9"/>
<rect x="446.30" y="116.15" width="14.80" height="7.55" fill="#5eb3ba" stroke="#111" stroke-width="0.9"/>
<rect x="461.10" y="116.15" width="14.80" height="7.55" fill="#d8ecd8" stroke="#111" stroke-width="0.9"/>
<rect x="357.50" y="123.70" width="14.80" height="7.55" fill="#5eb3ba" stroke="#111" stroke-width="0.9"/>
<rect x="372.30" y="123.70" width="14.80" height="7.55" fill="#c8e4c8" stroke="#111" stroke-width="0.9"/>
<rect x="387.10" y="123.70" width="14.80" height="7.55" fill="#d8ecd8" stroke="#111" stroke-width="0.9"/>
<rect x="401.90" y="123.70" width="14.80" height="7.55" fill="#98d0d8" stroke="#111" stroke-width="0.9"/>
<rect x="416.70" y="123.70" width="14.80" height="7.55" fill="#5eb3ba" stroke="#111" stroke-width="0.9"/>
<rect x="431.50" y="123.70" width="14.80" height="7.55" fill="#b8dcb8" stroke="#111" stroke-width="0.9"/>
<rect x="446.30" y="123.70" width="14.80" height="7.55" fill="#5eb3ba" stroke="#111" stroke-width="0.9"/>
<rect x="461.10" y="123.70" width="14.80" height="7.55" fill="#d0e8d0" stroke="#111" stroke-width="0.9"/>
<rect x="357.50" y="131.25" width="14.80" height="7.55" fill="#cb1a1d" stroke="#111" stroke-width="0.9"/>
<rect x="372.30" y="131.25" width="14.80" height="7.55" fill="#9a6a9a" stroke="#111" stroke-width="0.9"/>
<rect x="387.10" y="131.25" width="14.80" height="7.55" fill="#cb1a1d" stroke="#111" stroke-width="0.9"/>
<rect x="401.90" y="131.25" width="14.80" height="7.55" fill="#5eb3ba" stroke="#111" stroke-width="0.9"/>
<rect x="416.70" y="131.25" width="14.80" height="7.55" fill="#5eb3ba" stroke="#111" stroke-width="0.9"/>
<rect x="431.50" y="131.25" width="14.80" height="7.55" fill="#c8e4c0" stroke="#111" stroke-width="0.9"/>
<rect x="446.30" y="131.25" width="14.80" height="7.55" fill="#5eb3ba" stroke="#111" stroke-width="0.9"/>
<rect x="461.10" y="131.25" width="14.80" height="7.55" fill="#884878" stroke="#111" stroke-width="0.9"/>
<rect x="357.50" y="138.80" width="14.80" height="7.55" fill="#cb1a1d" stroke="#111" stroke-width="0.9"/>
<rect x="372.30" y="138.80" width="14.80" height="7.55" fill="#8e5890" stroke="#111" stroke-width="0.9"/>
<rect x="387.10" y="138.80" width="14.80" height="7.55" fill="#cb1a1d" stroke="#111" stroke-width="0.9"/>
<rect x="401.90" y="138.80" width="14.80" height="7.55" fill="#5eb3ba" stroke="#111" stroke-width="0.9"/>
<rect x="416.70" y="138.80" width="14.80" height="7.55" fill="#5eb3ba" stroke="#111" stroke-width="0.9"/>
<rect x="431.50" y="138.80" width="14.80" height="7.55" fill="#c0e0c0" stroke="#111" stroke-width="0.9"/>
<rect x="446.30" y="138.80" width="14.80" height="7.55" fill="#5eb3ba" stroke="#111" stroke-width="0.9"/>
<rect x="461.10" y="138.80" width="14.80" height="7.55" fill="#d0e8d0" stroke="#111" stroke-width="0.9"/>
<rect x="357.50" y="146.35" width="14.80" height="7.55" fill="#c8e4c8" stroke="#111" stroke-width="0.9"/>
<rect x="372.30" y="146.35" width="14.80" height="7.55" fill="#e0f0e0" stroke="#111" stroke-width="0.9"/>
<rect x="387.10" y="146.35" width="14.80" height="7.55" fill="#8e5088" stroke="#111" stroke-width="0.9"/>
<rect x="401.90" y="146.35" width="14.80" height="7.55" fill="#5eb3ba" stroke="#111" stroke-width="0.9"/>
<rect x="416.70" y="146.35" width="14.80" height="7.55" fill="#5eb3ba" stroke="#111" stroke-width="0.9"/>
<rect x="431.50" y="146.35" width="14.80" height="7.55" fill="#c0e0c0" stroke="#111" stroke-width="0.9"/>
<rect x="446.30" y="146.35" width="14.80" height="7.55" fill="#5eb3ba" stroke="#111" stroke-width="0.9"/>
<rect x="461.10" y="146.35" width="14.80" height="7.55" fill="#d0e8d0" stroke="#111" stroke-width="0.9"/>
<rect x="357.50" y="153.90" width="14.80" height="7.55" fill="#5eb3ba" stroke="#111" stroke-width="0.9"/>
<rect x="372.30" y="153.90" width="14.80" height="7.55" fill="#985a90" stroke="#111" stroke-width="0.9"/>
<rect x="387.10" y="153.90" width="14.80" height="7.55" fill="#cb1a1d" stroke="#111" stroke-width="0.9"/>
<rect x="401.90" y="153.90" width="14.80" height="7.55" fill="#5eb3ba" stroke="#111" stroke-width="0.9"/>
<rect x="416.70" y="153.90" width="14.80" height="7.55" fill="#5eb3ba" stroke="#111" stroke-width="0.9"/>
<rect x="431.50" y="153.90" width="14.80" height="7.55" fill="#b0d8b0" stroke="#111" stroke-width="0.9"/>
<rect x="446.30" y="153.90" width="14.80" height="7.55" fill="#5eb3ba" stroke="#111" stroke-width="0.9"/>
<rect x="461.10" y="153.90" width="14.80" height="7.55" fill="#d0e8d0" stroke="#111" stroke-width="0.9"/>
<rect x="357.50" y="161.45" width="14.80" height="7.55" fill="#88c8d0" stroke="#111" stroke-width="0.9"/>
<rect x="372.30" y="161.45" width="14.80" height="7.55" fill="#884a80" stroke="#111" stroke-width="0.9"/>
<rect x="387.10" y="161.45" width="14.80" height="7.55" fill="#9a6090" stroke="#111" stroke-width="0.9"/>
<rect x="401.90" y="161.45" width="14.80" height="7.55" fill="#a8d8dc" stroke="#111" stroke-width="0.9"/>
<rect x="416.70" y="161.45" width="14.80" height="7.55" fill="#b0dce0" stroke="#111" stroke-width="0.9"/>
<rect x="431.50" y="161.45" width="14.80" height="7.55" fill="#b0dce0" stroke="#111" stroke-width="0.9"/>
<rect x="446.30" y="161.45" width="14.80" height="7.55" fill="#5eb3ba" stroke="#111" stroke-width="0.9"/>
<rect x="461.10" y="161.45" width="14.80" height="7.55" fill="#a06a98" stroke="#111" stroke-width="0.9"/>
<rect x="357.50" y="169.00" width="14.80" height="7.55" fill="#d0e8d8" stroke="#111" stroke-width="0.9"/>
<rect x="372.30" y="169.00" width="14.80" height="7.55" fill="#d0ecd8" stroke="#111" stroke-width="0.9"/>
<rect x="387.10" y="169.00" width="14.80" height="7.55" fill="#d8ecd8" stroke="#111" stroke-width="0.9"/>
<rect x="401.90" y="169.00" width="14.80" height="7.55" fill="#8ccbd0" stroke="#111" stroke-width="0.9"/>
<rect x="416.70" y="169.00" width="14.80" height="7.55" fill="#5eb3ba" stroke="#111" stroke-width="0.9"/>
<rect x="431.50" y="169.00" width="14.80" height="7.55" fill="#c8e4d0" stroke="#111" stroke-width="0.9"/>
<rect x="446.30" y="169.00" width="14.80" height="7.55" fill="#5eb3ba" stroke="#111" stroke-width="0.9"/>
<rect x="461.10" y="169.00" width="14.80" height="7.55" fill="#c8e4d0" stroke="#111" stroke-width="0.9"/>
<rect x="357.50" y="78.40" width="118.40" height="7.55" fill="#ffffff" stroke="#111" stroke-width="0.9"/>
<rect x="357.50" y="63.30" width="118.40" height="113.25" fill="none" stroke="#111" stroke-width="1.1"/>
<text x="0" y="0" font-size="8.5" text-anchor="middle" fill="#111" transform="translate(414.20 14.80) scale(1.075 1)">Plus S63845 1:1</text>
<text x="367.40" y="60.20" font-size="6.9" text-anchor="start" fill="#111" font-weight="normal" transform="rotate(-90 367.40 60.2)">K562</text>
<text x="382.20" y="60.20" font-size="6.9" text-anchor="start" fill="#111" font-weight="normal" transform="rotate(-90 382.20 60.2)">SUPB15</text>
<text x="397.00" y="60.20" font-size="6.9" text-anchor="start" fill="#111" font-weight="normal" transform="rotate(-90 397.00 60.2)">BV173</text>
<text x="411.80" y="60.20" font-size="6.9" text-anchor="start" fill="#111" font-weight="normal" transform="rotate(-90 411.80 60.2)">M-ALL4</text>
<text x="426.60" y="60.20" font-size="6.9" text-anchor="start" fill="#111" font-weight="normal" transform="rotate(-90 426.60 60.2)">MUTZ5</text>
<text x="441.40" y="60.20" font-size="6.9" text-anchor="start" fill="#111" font-weight="normal" transform="rotate(-90 441.40 60.2)">REH</text>
<text x="456.20" y="60.20" font-size="6.9" text-anchor="start" fill="#111" font-weight="normal" transform="rotate(-90 456.20 60.2)">NALM6</text>
<text x="471.00" y="60.20" font-size="6.9" text-anchor="start" fill="#111" font-weight="normal" transform="rotate(-90 471.00 60.2)">697</text>
<text x="120.00" y="25.80" font-size="6.6" text-anchor="middle" fill="#111" font-weight="normal">Ph+ ALL</text>
<line x1="108.00" y1="30.60" x2="132.50" y2="30.60" stroke="#111" stroke-width="0.9"/>
<text x="152.20" y="25.80" font-size="6.6" text-anchor="middle" fill="#111" font-weight="normal">Ph Like ALL</text>
<line x1="140.00" y1="30.60" x2="164.00" y2="30.60" stroke="#111" stroke-width="0.9"/>
<text x="189.00" y="25.80" font-size="6.6" text-anchor="middle" fill="#111" font-weight="normal">Ph- ALL</text>
<line x1="171.00" y1="30.60" x2="206.80" y2="30.60" stroke="#111" stroke-width="0.9"/>
<text x="251.00" y="25.80" font-size="6.6" text-anchor="middle" fill="#111" font-weight="normal">Ph+ ALL</text>
<line x1="239.50" y1="30.60" x2="263.00" y2="30.60" stroke="#111" stroke-width="0.9"/>
<text x="283.40" y="25.80" font-size="6.6" text-anchor="middle" fill="#111" font-weight="normal">Ph Like ALL</text>
<line x1="271.80" y1="30.60" x2="295.50" y2="30.60" stroke="#111" stroke-width="0.9"/>
<text x="320.00" y="25.80" font-size="6.6" text-anchor="middle" fill="#111" font-weight="normal">Ph- ALL</text>
<line x1="302.50" y1="30.60" x2="338.00" y2="30.60" stroke="#111" stroke-width="0.9"/>
<text x="385.60" y="25.80" font-size="6.6" text-anchor="middle" fill="#111" font-weight="normal">Ph+ ALL</text>
<line x1="374.30" y1="30.60" x2="397.80" y2="30.60" stroke="#111" stroke-width="0.9"/>
<text x="418.10" y="25.80" font-size="6.6" text-anchor="middle" fill="#111" font-weight="normal">Ph Like ALL</text>
<line x1="406.30" y1="30.60" x2="430.00" y2="30.60" stroke="#111" stroke-width="0.9"/>
<text x="454.50" y="25.80" font-size="6.6" text-anchor="middle" fill="#111" font-weight="normal">Ph- ALL</text>
<line x1="436.80" y1="30.60" x2="472.50" y2="30.60" stroke="#111" stroke-width="0.9"/>
<text x="89.70" y="69.48" font-size="6.8" text-anchor="end" fill="#111" font-weight="normal">Ven</text>
<text x="89.70" y="77.03" font-size="6.8" text-anchor="end" fill="#111" font-weight="normal">S55746</text>
<text x="89.70" y="84.58" font-size="6.8" text-anchor="end" fill="#111" font-weight="normal">S63845</text>
<text x="89.70" y="92.12" font-size="6.8" text-anchor="end" fill="#111" font-weight="normal">A1331852</text>
<text x="89.70" y="99.68" font-size="6.8" text-anchor="end" fill="#111" font-weight="normal">Dex</text>
<text x="89.70" y="107.23" font-size="6.8" text-anchor="end" fill="#111" font-weight="normal">AraC</text>
<text x="89.70" y="114.78" font-size="6.8" text-anchor="end" fill="#111" font-weight="normal">Daunorubicin</text>
<text x="89.70" y="122.33" font-size="6.8" text-anchor="end" fill="#111" font-weight="normal">Ruxolitinib</text>
<text x="89.70" y="129.88" font-size="6.8" text-anchor="end" fill="#111" font-weight="normal">Tofacitinib</text>
<text x="89.70" y="137.43" font-size="6.8" text-anchor="end" fill="#111" font-weight="normal">Dasatinib</text>
<text x="89.70" y="144.98" font-size="6.8" text-anchor="end" fill="#111" font-weight="normal">Nilotinib</text>
<text x="89.70" y="152.53" font-size="6.8" text-anchor="end" fill="#111" font-weight="normal">Imatinib</text>
<text x="89.70" y="160.07" font-size="6.8" text-anchor="end" fill="#111" font-weight="normal">Cerdulatinib</text>
<text x="89.70" y="167.62" font-size="6.8" text-anchor="end" fill="#111" font-weight="normal">Trametinib</text>
<text x="89.70" y="175.18" font-size="6.8" text-anchor="end" fill="#111" font-weight="normal">Crizotinib</text>
<text x="7.60" y="17.80" font-size="12.8" text-anchor="start" fill="#000" font-weight="bold">A</text>
<defs><linearGradient id="lgA" x1="0" y1="0" x2="0" y2="1"><stop offset="0" stop-color="#d77b7b"/><stop offset="0.45" stop-color="#fbf3f3"/><stop offset="0.55" stop-color="#f3f6fc"/><stop offset="1" stop-color="#6c98d6"/></linearGradient></defs>
<text x="29.70" y="48.00" font-size="6.4" text-anchor="start" fill="#111" font-weight="normal">LC50 (uM)</text>
<rect x="40.60" y="54.20" width="9.30" height="20.50" fill="url(#lgA)"/>
<text x="36.60" y="58.50" font-size="6.4" text-anchor="end" fill="#111" font-weight="normal">0.1</text>
<text x="36.60" y="66.50" font-size="6.4" text-anchor="end" fill="#111" font-weight="normal">1</text>
<text x="36.60" y="74.50" font-size="6.4" text-anchor="end" fill="#111" font-weight="normal">10</text>
<text x="6.90" y="203.30" font-size="13" text-anchor="start" fill="#000" font-weight="bold">B</text>
<text x="238.50" y="200.80" font-size="8.4" text-anchor="middle" fill="#111" font-weight="normal">Primary Patient Samples</text>
<line x1="28.20" y1="205.60" x2="454.60" y2="205.60" stroke="#111" stroke-width="1.0"/>
<rect x="28.20" y="214.50" width="426.34" height="169.26" fill="#ffffff"/>
<rect x="74.50" y="245.90" width="15.84" height="15.67" fill="#91c8de"/>
<rect x="74.50" y="261.57" width="15.84" height="15.67" fill="#91c8de"/>
<rect x="74.50" y="277.24" width="15.84" height="15.67" fill="#af231e"/>
<rect x="74.50" y="292.91" width="15.84" height="15.67" fill="#a8d0b0"/>
<rect x="74.50" y="308.58" width="15.84" height="15.67" fill="#af231e"/>
<rect x="74.50" y="324.25" width="15.84" height="15.67" fill="#91c8de"/>
<rect x="74.50" y="339.92" width="15.84" height="15.67" fill="#af231e"/>
<rect x="74.50" y="355.59" width="15.84" height="15.67" fill="#91c8de"/>
<rect x="90.34" y="245.90" width="15.84" height="15.67" fill="#d8eadc"/>
<rect x="90.34" y="261.57" width="15.84" height="15.67" fill="#c3378c"/>
<rect x="90.34" y="277.24" width="15.84" height="15.67" fill="#af231e"/>
<rect x="90.34" y="292.91" width="15.84" height="15.67" fill="#d8eadc"/>
<rect x="90.34" y="308.58" width="15.84" height="15.67" fill="#91c8de"/>
<rect x="90.34" y="324.25" width="15.84" height="15.67" fill="#af231e"/>
<rect x="90.34" y="339.92" width="15.84" height="15.67" fill="#91c8de"/>
<rect x="106.17" y="245.90" width="15.84" height="15.67" fill="#a8d4b4"/>
<rect x="106.17" y="261.57" width="15.84" height="15.67" fill="#91c8de"/>
<rect x="106.17" y="277.24" width="15.84" height="15.67" fill="#af231e"/>
<rect x="106.17" y="292.91" width="15.84" height="15.67" fill="#7a5070"/>
<rect x="106.17" y="308.58" width="15.84" height="15.67" fill="#af231e"/>
<rect x="106.17" y="324.25" width="15.84" height="15.67" fill="#62405a"/>
<rect x="106.17" y="339.92" width="15.84" height="15.67" fill="#af231e"/>
<rect x="106.17" y="355.59" width="15.84" height="15.67" fill="#91c8de"/>
<rect x="122.00" y="245.90" width="15.84" height="15.67" fill="#91c8de"/>
<rect x="122.00" y="261.57" width="15.84" height="15.67" fill="#af231e"/>
<rect x="122.00" y="277.24" width="15.84" height="15.67" fill="#af231e"/>
<rect x="122.00" y="292.91" width="15.84" height="15.67" fill="#91c8de"/>
<rect x="122.00" y="308.58" width="15.84" height="15.67" fill="#af231e"/>
<rect x="122.00" y="324.25" width="15.84" height="15.67" fill="#91c8de"/>
<rect x="137.84" y="245.90" width="15.84" height="15.67" fill="#91c8de"/>
<rect x="137.84" y="261.57" width="15.84" height="15.67" fill="#91c8de"/>
<rect x="137.84" y="277.24" width="15.84" height="15.67" fill="#af231e"/>
<rect x="137.84" y="292.91" width="15.84" height="15.67" fill="#91c8de"/>
<rect x="137.84" y="308.58" width="15.84" height="15.67" fill="#af231e"/>
<rect x="137.84" y="324.25" width="15.84" height="15.67" fill="#d050a0"/>
<rect x="137.84" y="339.92" width="15.84" height="15.67" fill="#c83896"/>
<rect x="137.84" y="355.59" width="15.84" height="15.67" fill="#91c8de"/>
<rect x="153.68" y="245.90" width="15.84" height="15.67" fill="#91c8de"/>
<rect x="153.68" y="261.57" width="15.84" height="15.67" fill="#91c8de"/>
<rect x="153.68" y="277.24" width="15.84" height="15.67" fill="#d060a0"/>
<rect x="169.51" y="245.90" width="15.84" height="15.67" fill="#91c8de"/>
<rect x="169.51" y="261.57" width="15.84" height="15.67" fill="#91c8de"/>
<rect x="169.51" y="277.24" width="15.84" height="15.67" fill="#a8d4b0"/>
<rect x="169.51" y="292.91" width="15.84" height="15.67" fill="#91c8de"/>
<rect x="169.51" y="308.58" width="15.84" height="15.67" fill="#91c8de"/>
<rect x="169.51" y="324.25" width="15.84" height="15.67" fill="#a8d4b0"/>
<rect x="169.51" y="339.92" width="15.84" height="15.67" fill="#91c8de"/>
<rect x="185.34" y="245.90" width="15.84" height="15.67" fill="#91c8de"/>
<rect x="185.34" y="261.57" width="15.84" height="15.67" fill="#91c8de"/>
<rect x="185.34" y="277.24" width="15.84" height="15.67" fill="#91c8de"/>
<rect x="201.18" y="245.90" width="15.84" height="15.67" fill="#b0d8b8"/>
<rect x="201.18" y="261.57" width="15.84" height="15.67" fill="#91c8de"/>
<rect x="201.18" y="277.24" width="15.84" height="15.67" fill="#af231e"/>
<rect x="201.18" y="292.91" width="15.84" height="15.67" fill="#91c8de"/>
<rect x="201.18" y="308.58" width="15.84" height="15.67" fill="#af231e"/>
<rect x="201.18" y="324.25" width="15.84" height="15.67" fill="#91c8de"/>
<rect x="201.18" y="339.92" width="15.84" height="15.67" fill="#af231e"/>
<rect x="201.18" y="355.59" width="15.84" height="15.67" fill="#c87858"/>
<rect x="217.02" y="245.90" width="15.84" height="15.67" fill="#91c8de"/>
<rect x="217.02" y="261.57" width="15.84" height="15.67" fill="#af231e"/>
<rect x="217.02" y="277.24" width="15.84" height="15.67" fill="#91c8de"/>
<rect x="217.02" y="292.91" width="15.84" height="15.67" fill="#91c8de"/>
<rect x="217.02" y="308.58" width="15.84" height="15.67" fill="#91c8de"/>
<rect x="217.02" y="324.25" width="15.84" height="15.67" fill="#91c8de"/>
<rect x="217.02" y="339.92" width="15.84" height="15.67" fill="#91c8de"/>
<rect x="217.02" y="355.59" width="15.84" height="15.67" fill="#91c8de"/>
<rect x="232.85" y="245.90" width="15.84" height="15.67" fill="#91c8de"/>
<rect x="232.85" y="261.57" width="15.84" height="15.67" fill="#91c8de"/>
<rect x="232.85" y="277.24" width="15.84" height="15.67" fill="#af231e"/>
<rect x="232.85" y="292.91" width="15.84" height="15.67" fill="#91c8de"/>
<rect x="232.85" y="308.58" width="15.84" height="15.67" fill="#91c8de"/>
<rect x="232.85" y="324.25" width="15.84" height="15.67" fill="#91c8de"/>
<rect x="232.85" y="339.92" width="15.84" height="15.67" fill="#91c8de"/>
<rect x="232.85" y="355.59" width="15.84" height="15.67" fill="#91c8de"/>
<rect x="248.69" y="245.90" width="15.84" height="15.67" fill="#91c8de"/>
<rect x="248.69" y="261.57" width="15.84" height="15.67" fill="#91c8de"/>
<rect x="248.69" y="277.24" width="15.84" height="15.67" fill="#91c8de"/>
<rect x="264.52" y="245.90" width="15.84" height="15.67" fill="#af231e"/>
<rect x="264.52" y="261.57" width="15.84" height="15.67" fill="#af231e"/>
<rect x="264.52" y="277.24" width="15.84" height="15.67" fill="#af231e"/>
<rect x="264.52" y="292.91" width="15.84" height="15.67" fill="#af231e"/>
<rect x="264.52" y="308.58" width="15.84" height="15.67" fill="#af231e"/>
<rect x="264.52" y="324.25" width="15.84" height="15.67" fill="#806080"/>
<rect x="264.52" y="339.92" width="15.84" height="15.67" fill="#af231e"/>
<rect x="264.52" y="355.59" width="15.84" height="15.67" fill="#d09078"/>
<rect x="280.36" y="245.90" width="15.84" height="15.67" fill="#806078"/>
<rect x="280.36" y="261.57" width="15.84" height="15.67" fill="#af231e"/>
<rect x="280.36" y="277.24" width="15.84" height="15.67" fill="#af231e"/>
<rect x="280.36" y="292.91" width="15.84" height="15.67" fill="#d49078"/>
<rect x="280.36" y="308.58" width="15.84" height="15.67" fill="#af231e"/>
<rect x="280.36" y="324.25" width="15.84" height="15.67" fill="#91c8de"/>
<rect x="280.36" y="339.92" width="15.84" height="15.67" fill="#af231e"/>
<rect x="280.36" y="355.59" width="15.84" height="15.67" fill="#b85840"/>
<rect x="296.19" y="245.90" width="15.84" height="15.67" fill="#af231e"/>
<rect x="296.19" y="261.57" width="15.84" height="15.67" fill="#91c8de"/>
<rect x="296.19" y="277.24" width="15.84" height="15.67" fill="#af231e"/>
<rect x="296.19" y="292.91" width="15.84" height="15.67" fill="#d09078"/>
<rect x="296.19" y="308.58" width="15.84" height="15.67" fill="#af231e"/>
<rect x="296.19" y="324.25" width="15.84" height="15.67" fill="#91c8de"/>
<rect x="296.19" y="339.92" width="15.84" height="15.67" fill="#af231e"/>
<rect x="296.19" y="355.59" width="15.84" height="15.67" fill="#af231e"/>
<rect x="312.02" y="245.90" width="15.84" height="15.67" fill="#91c8de"/>
<rect x="312.02" y="261.57" width="15.84" height="15.67" fill="#91c8de"/>
<rect x="312.02" y="277.24" width="15.84" height="15.67" fill="#b84030"/>
<rect x="312.02" y="292.91" width="15.84" height="15.67" fill="#91c8de"/>
<rect x="312.02" y="308.58" width="15.84" height="15.67" fill="#af231e"/>
<rect x="312.02" y="324.25" width="15.84" height="15.67" fill="#91c8de"/>
<rect x="312.02" y="339.92" width="15.84" height="15.67" fill="#af231e"/>
<rect x="312.02" y="355.59" width="15.84" height="15.67" fill="#91c8de"/>
<rect x="327.86" y="245.90" width="15.84" height="15.67" fill="#91c8de"/>
<rect x="327.86" y="261.57" width="15.84" height="15.67" fill="#91c8de"/>
<rect x="327.86" y="277.24" width="15.84" height="15.67" fill="#af231e"/>
<rect x="327.86" y="292.91" width="15.84" height="15.67" fill="#91c8de"/>
<rect x="327.86" y="308.58" width="15.84" height="15.67" fill="#af231e"/>
<rect x="327.86" y="324.25" width="15.84" height="15.67" fill="#91c8de"/>
<rect x="327.86" y="339.92" width="15.84" height="15.67" fill="#af231e"/>
<rect x="327.86" y="355.59" width="15.84" height="15.67" fill="#91c8de"/>
<rect x="343.69" y="245.90" width="15.84" height="15.67" fill="#a8d4b0"/>
<rect x="343.69" y="261.57" width="15.84" height="15.67" fill="#91c8de"/>
<rect x="343.69" y="277.24" width="15.84" height="15.67" fill="#c05840"/>
<rect x="343.69" y="292.91" width="15.84" height="15.67" fill="#603c5c"/>
<rect x="343.69" y="308.58" width="15.84" height="15.67" fill="#af231e"/>
<rect x="343.69" y="324.25" width="15.84" height="15.67" fill="#91c8de"/>
<rect x="343.69" y="339.92" width="15.84" height="15.67" fill="#91c8de"/>
<rect x="343.69" y="355.59" width="15.84" height="15.67" fill="#d8eadc"/>
<rect x="359.53" y="245.90" width="15.84" height="15.67" fill="#91c8de"/>
<rect x="359.53" y="261.57" width="15.84" height="15.67" fill="#91c8de"/>
<rect x="359.53" y="277.24" width="15.84" height="15.67" fill="#d050a0"/>
<rect x="359.53" y="292.91" width="15.84" height="15.67" fill="#91c8de"/>
<rect x="359.53" y="308.58" width="15.84" height="15.67" fill="#d08a70"/>
<rect x="359.53" y="324.25" width="15.84" height="15.67" fill="#91c8de"/>
<rect x="359.53" y="339.92" width="15.84" height="15.67" fill="#af231e"/>
<rect x="359.53" y="355.59" width="15.84" height="15.67" fill="#91c8de"/>
<rect x="375.37" y="245.90" width="15.84" height="15.67" fill="#91c8de"/>
<rect x="375.37" y="261.57" width="15.84" height="15.67" fill="#91c8de"/>
<rect x="375.37" y="277.24" width="15.84" height="15.67" fill="#91c8de"/>
<rect x="375.37" y="292.91" width="15.84" height="15.67" fill="#91c8de"/>
<rect x="375.37" y="308.58" width="15.84" height="15.67" fill="#91c8de"/>
<rect x="375.37" y="324.25" width="15.84" height="15.67" fill="#91c8de"/>
<rect x="375.37" y="339.92" width="15.84" height="15.67" fill="#91c8de"/>
<rect x="375.37" y="355.59" width="15.84" height="15.67" fill="#91c8de"/>
<rect x="391.20" y="245.90" width="15.84" height="15.67" fill="#d0e8d4"/>
<rect x="391.20" y="261.57" width="15.84" height="15.67" fill="#91c8de"/>
<rect x="391.20" y="277.24" width="15.84" height="15.67" fill="#c06048"/>
<rect x="391.20" y="292.91" width="15.84" height="15.67" fill="#88c0a0"/>
<rect x="391.20" y="308.58" width="15.84" height="15.67" fill="#b83020"/>
<rect x="391.20" y="324.25" width="15.84" height="15.67" fill="#91c8de"/>
<rect x="391.20" y="339.92" width="15.84" height="15.67" fill="#b8dcc0"/>
<rect x="391.20" y="355.59" width="15.84" height="15.67" fill="#91c8de"/>
<rect x="407.04" y="245.90" width="15.84" height="15.67" fill="#91c8de"/>
<rect x="407.04" y="261.57" width="15.84" height="15.67" fill="#91c8de"/>
<rect x="407.04" y="277.24" width="15.84" height="15.67" fill="#d09078"/>
<rect x="407.04" y="292.91" width="15.84" height="15.67" fill="#91c8de"/>
<rect x="407.04" y="308.58" width="15.84" height="15.67" fill="#b01c1c"/>
<rect x="407.04" y="324.25" width="15.84" height="15.67" fill="#91c8de"/>
<rect x="407.04" y="339.92" width="15.84" height="15.67" fill="#91c8de"/>
<rect x="407.04" y="355.59" width="15.84" height="15.67" fill="#91c8de"/>
<rect x="422.87" y="245.90" width="15.84" height="15.67" fill="#98c8a8"/>
<rect x="422.87" y="261.57" width="15.84" height="15.67" fill="#91c8de"/>
<rect x="422.87" y="277.24" width="15.84" height="15.67" fill="#b83828"/>
<rect x="422.87" y="292.91" width="15.84" height="15.67" fill="#91c8de"/>
<rect x="422.87" y="308.58" width="15.84" height="15.67" fill="#b82820"/>
<rect x="422.87" y="324.25" width="15.84" height="15.67" fill="#91c8de"/>
<rect x="422.87" y="339.92" width="15.84" height="15.67" fill="#d0ead4"/>
<rect x="422.87" y="355.59" width="15.84" height="15.67" fill="#91c8de"/>
<rect x="438.71" y="245.90" width="15.84" height="15.67" fill="#70506c"/>
<rect x="438.71" y="261.57" width="15.84" height="15.67" fill="#c84898"/>
<rect x="438.71" y="277.24" width="15.84" height="15.67" fill="#c84898"/>
<rect x="438.71" y="292.91" width="15.84" height="15.67" fill="#90c8a0"/>
<rect x="438.71" y="308.58" width="15.84" height="15.67" fill="#603c5c"/>
<rect x="438.71" y="324.25" width="15.84" height="15.67" fill="#91c8de"/>
<rect x="438.71" y="339.92" width="15.84" height="15.67" fill="#806078"/>
<rect x="438.71" y="355.59" width="15.84" height="15.67" fill="#b84830"/>
<line x1="28.20" y1="245.90" x2="454.54" y2="245.90" stroke="#111" stroke-width="1.5"/>
<line x1="28.20" y1="261.57" x2="454.54" y2="261.57" stroke="#111" stroke-width="0.95"/>
<line x1="28.20" y1="277.24" x2="454.54" y2="277.24" stroke="#111" stroke-width="0.95"/>
<line x1="28.20" y1="292.91" x2="454.54" y2="292.91" stroke="#111" stroke-width="0.95"/>
<line x1="28.20" y1="308.58" x2="454.54" y2="308.58" stroke="#111" stroke-width="0.95"/>
<line x1="28.20" y1="324.25" x2="454.54" y2="324.25" stroke="#111" stroke-width="0.95"/>
<line x1="28.20" y1="339.92" x2="454.54" y2="339.92" stroke="#111" stroke-width="0.95"/>
<line x1="28.20" y1="355.59" x2="454.54" y2="355.59" stroke="#111" stroke-width="0.95"/>
<line x1="28.20" y1="371.26" x2="454.54" y2="371.26" stroke="#111" stroke-width="0.95"/>
<line x1="28.20" y1="214.50" x2="454.54" y2="214.50" stroke="#111" stroke-width="0.9"/>
<line x1="28.20" y1="377.86" x2="454.54" y2="377.86" stroke="#111" stroke-width="0.7"/>
<line x1="28.20" y1="383.76" x2="454.54" y2="383.76" stroke="#111" stroke-width="0.9"/>
<line x1="28.20" y1="214.50" x2="28.20" y2="383.76" stroke="#111" stroke-width="0.9"/>
<line x1="74.50" y1="214.50" x2="74.50" y2="383.76" stroke="#111" stroke-width="0.9"/>
<line x1="90.34" y1="214.50" x2="90.34" y2="383.76" stroke="#111" stroke-width="0.9"/>
<line x1="106.17" y1="214.50" x2="106.17" y2="383.76" stroke="#111" stroke-width="0.9"/>
<line x1="122.00" y1="214.50" x2="122.00" y2="383.76" stroke="#111" stroke-width="0.9"/>
<line x1="137.84" y1="214.50" x2="137.84" y2="383.76" stroke="#111" stroke-width="0.9"/>
<line x1="153.68" y1="214.50" x2="153.68" y2="383.76" stroke="#111" stroke-width="0.9"/>
<line x1="169.51" y1="214.50" x2="169.51" y2="383.76" stroke="#111" stroke-width="0.9"/>
<line x1="185.34" y1="214.50" x2="185.34" y2="383.76" stroke="#111" stroke-width="0.9"/>
<line x1="201.18" y1="214.50" x2="201.18" y2="383.76" stroke="#111" stroke-width="0.9"/>
<line x1="217.02" y1="214.50" x2="217.02" y2="383.76" stroke="#111" stroke-width="0.9"/>
<line x1="232.85" y1="214.50" x2="232.85" y2="383.76" stroke="#111" stroke-width="0.9"/>
<line x1="248.69" y1="214.50" x2="248.69" y2="383.76" stroke="#111" stroke-width="0.9"/>
<line x1="264.52" y1="214.50" x2="264.52" y2="383.76" stroke="#111" stroke-width="0.9"/>
<line x1="280.36" y1="214.50" x2="280.36" y2="383.76" stroke="#111" stroke-width="0.9"/>
<line x1="296.19" y1="214.50" x2="296.19" y2="383.76" stroke="#111" stroke-width="0.9"/>
<line x1="312.02" y1="214.50" x2="312.02" y2="383.76" stroke="#111" stroke-width="0.9"/>
<line x1="327.86" y1="214.50" x2="327.86" y2="383.76" stroke="#111" stroke-width="0.9"/>
<line x1="343.69" y1="214.50" x2="343.69" y2="383.76" stroke="#111" stroke-width="0.9"/>
<line x1="359.53" y1="214.50" x2="359.53" y2="383.76" stroke="#111" stroke-width="0.9"/>
<line x1="375.37" y1="214.50" x2="375.37" y2="383.76" stroke="#111" stroke-width="0.9"/>
<line x1="391.20" y1="214.50" x2="391.20" y2="383.76" stroke="#111" stroke-width="0.9"/>
<line x1="407.04" y1="214.50" x2="407.04" y2="383.76" stroke="#111" stroke-width="0.9"/>
<line x1="422.87" y1="214.50" x2="422.87" y2="383.76" stroke="#111" stroke-width="0.9"/>
<line x1="438.71" y1="214.50" x2="438.71" y2="383.76" stroke="#111" stroke-width="0.9"/>
<line x1="454.54" y1="214.50" x2="454.54" y2="383.76" stroke="#111" stroke-width="0.9"/>
<text x="0" y="0" font-size="5.0" text-anchor="middle" fill="#111" transform="translate(51.35 232.00) scale(0.88 1)">B-ALL Patient ID</text>
<text x="84.62" y="242.60" font-size="4.75" text-anchor="start" fill="#000" font-weight="normal" transform="rotate(-90 84.62 242.6)">01-317-2014</text>
<text x="100.45" y="242.60" font-size="4.75" text-anchor="start" fill="#000" font-weight="normal" transform="rotate(-90 100.45 242.6)">01-278-2016</text>
<text x="116.29" y="242.60" font-size="4.75" text-anchor="start" fill="#000" font-weight="normal" transform="rotate(-90 116.29 242.6)">01-228-2012</text>
<text x="132.12" y="242.60" font-size="4.75" text-anchor="start" fill="#000" font-weight="normal" transform="rotate(-90 132.12 242.6)">01-308-2016</text>
<text x="147.96" y="242.60" font-size="4.75" text-anchor="start" fill="#000" font-weight="normal" transform="rotate(-90 147.96 242.6)">01-218-2014</text>
<text x="163.79" y="242.60" font-size="4.75" text-anchor="start" fill="#000" font-weight="normal" transform="rotate(-90 163.79 242.6)">01-008-2011</text>
<text x="179.63" y="242.60" font-size="4.75" text-anchor="start" fill="#000" font-weight="normal" transform="rotate(-90 179.63 242.6)">02-166-2016</text>
<text x="195.46" y="242.60" font-size="4.75" text-anchor="start" fill="#000" font-weight="normal" transform="rotate(-90 195.46 242.6)">01-296-2015</text>
<text x="211.30" y="242.60" font-size="4.75" text-anchor="start" fill="#000" font-weight="normal" transform="rotate(-90 211.30 242.6)">01-160-2015</text>
<text x="227.13" y="242.60" font-size="4.75" text-anchor="start" fill="#000" font-weight="normal" transform="rotate(-90 227.13 242.6)">01-023-2018</text>
<text x="242.97" y="242.60" font-size="4.75" text-anchor="start" fill="#000" font-weight="normal" transform="rotate(-90 242.97 242.6)">02-010-2018</text>
<text x="258.80" y="242.60" font-size="4.75" text-anchor="start" fill="#000" font-weight="normal" transform="rotate(-90 258.80 242.6)">01-269-2017</text>
<text x="274.64" y="242.60" font-size="4.75" text-anchor="start" fill="#000" font-weight="normal" transform="rotate(-90 274.64 242.6)">01-265-2014</text>
<text x="290.47" y="242.60" font-size="4.75" text-anchor="start" fill="#000" font-weight="normal" transform="rotate(-90 290.47 242.6)">01-239-2016</text>
<text x="306.31" y="242.60" font-size="4.75" text-anchor="start" fill="#000" font-weight="normal" transform="rotate(-90 306.31 242.6)">01-314-2016</text>
<text x="322.14" y="242.60" font-size="4.75" text-anchor="start" fill="#000" font-weight="normal" transform="rotate(-90 322.14 242.6)">01-048-2018</text>
<text x="337.98" y="242.60" font-size="4.75" text-anchor="start" fill="#000" font-weight="normal" transform="rotate(-90 337.98 242.6)">01-172-2017</text>
<text x="353.81" y="242.60" font-size="4.75" text-anchor="start" fill="#000" font-weight="normal" transform="rotate(-90 353.81 242.6)">02-209-2016</text>
<text x="369.65" y="242.60" font-size="4.75" text-anchor="start" fill="#000" font-weight="normal" transform="rotate(-90 369.65 242.6)">01-224-2015</text>
<text x="385.48" y="242.60" font-size="4.75" text-anchor="start" fill="#000" font-weight="normal" transform="rotate(-90 385.48 242.6)">01-127-2018</text>
<text x="401.32" y="242.60" font-size="4.75" text-anchor="start" fill="#000" font-weight="normal" transform="rotate(-90 401.32 242.6)">01-187-2018</text>
<text x="417.15" y="242.60" font-size="4.75" text-anchor="start" fill="#000" font-weight="normal" transform="rotate(-90 417.15 242.6)">04-204-2018</text>
<text x="432.99" y="242.60" font-size="4.75" text-anchor="start" fill="#000" font-weight="normal" transform="rotate(-90 432.99 242.6)">01-207-2018</text>
<text x="448.82" y="242.60" font-size="4.75" text-anchor="start" fill="#000" font-weight="normal" transform="rotate(-90 448.82 242.6)">03-337-2018</text>
<text x="0" y="0" font-size="5.0" text-anchor="middle" fill="#111" transform="translate(51.35 255.64) scale(0.88 1)">S55746</text>
<text x="0" y="0" font-size="5.0" text-anchor="middle" fill="#111" transform="translate(51.35 271.30) scale(0.88 1)">S63845</text>
<text x="0" y="0" font-size="5.0" text-anchor="middle" fill="#111" transform="translate(51.35 286.97) scale(0.88 1)">S55746+S63845</text>
<text x="0" y="0" font-size="5.0" text-anchor="middle" fill="#111" transform="translate(51.35 302.64) scale(0.88 1)">Venetoclax</text>
<text x="0" y="0" font-size="5.0" text-anchor="middle" fill="#111" transform="translate(51.35 318.31) scale(0.88 1)">Venetoclax+S63845</text>
<text x="0" y="0" font-size="5.0" text-anchor="middle" fill="#111" transform="translate(51.35 333.98) scale(0.88 1)">A1331852</text>
<text x="0" y="0" font-size="5.0" text-anchor="middle" fill="#111" transform="translate(51.35 349.65) scale(0.88 1)">A1331852+S63845</text>
<text x="0" y="0" font-size="5.0" text-anchor="middle" fill="#111" transform="translate(51.35 365.32) scale(0.88 1)">Daunorubicin</text>
<text x="0" y="0" font-size="4.8" text-anchor="middle" fill="#111" transform="translate(51.35 376.26) scale(0.88 1)">Starting viability</text>
<text x="0" y="0" font-size="4.8" text-anchor="middle" fill="#111" transform="translate(51.35 382.36) scale(0.88 1)">Molecular</text>
<text x="0" y="0" font-size="4.8" text-anchor="middle" fill="#111" transform="translate(82.42 376.26) scale(0.88 1)">60</text>
<text x="82.42" y="382.26" font-size="4.3" text-anchor="middle" fill="#000" font-weight="normal" font-style="italic">Ph+</text>
<text x="0" y="0" font-size="4.8" text-anchor="middle" fill="#111" transform="translate(98.25 376.26) scale(0.88 1)">66.1</text>
<text x="98.25" y="382.26" font-size="4.3" text-anchor="middle" fill="#000" font-weight="normal" font-style="italic">Ph+</text>
<text x="0" y="0" font-size="4.8" text-anchor="middle" fill="#111" transform="translate(114.09 376.26) scale(0.88 1)">70</text>
<text x="114.09" y="382.26" font-size="4.3" text-anchor="middle" fill="#000" font-weight="normal" font-style="italic">Ph+</text>
<text x="0" y="0" font-size="4.8" text-anchor="middle" fill="#111" transform="translate(129.92 376.26) scale(0.88 1)">71.4</text>
<text x="129.92" y="382.26" font-size="4.3" text-anchor="middle" fill="#000" font-weight="normal" font-style="italic">Ph+</text>
<text x="0" y="0" font-size="4.8" text-anchor="middle" fill="#111" transform="translate(145.76 376.26) scale(0.88 1)">79.8</text>
<text x="145.76" y="382.26" font-size="4.3" text-anchor="middle" fill="#000" font-weight="normal" font-style="italic">Ph+</text>
<text x="0" y="0" font-size="4.8" text-anchor="middle" fill="#111" transform="translate(161.59 376.26) scale(0.88 1)">68</text>
<text x="161.59" y="382.26" font-size="4.3" text-anchor="middle" fill="#000" font-weight="normal" font-style="italic">Ph+</text>
<text x="0" y="0" font-size="4.8" text-anchor="middle" fill="#111" transform="translate(177.43 376.26) scale(0.88 1)">91</text>
<text x="177.43" y="382.26" font-size="4.3" text-anchor="middle" fill="#000" font-weight="normal" font-style="italic">Ph+</text>
<text x="0" y="0" font-size="4.8" text-anchor="middle" fill="#111" transform="translate(193.26 376.26) scale(0.88 1)">90</text>
<text x="193.26" y="382.26" font-size="4.3" text-anchor="middle" fill="#000" font-weight="normal" font-style="italic">Ph+</text>
<text x="0" y="0" font-size="4.8" text-anchor="middle" fill="#111" transform="translate(209.10 376.26) scale(0.88 1)">80</text>
<text x="209.10" y="382.26" font-size="4.3" text-anchor="middle" fill="#000" font-weight="normal" font-style="italic">KMT2A</text>
<text x="0" y="0" font-size="4.8" text-anchor="middle" fill="#111" transform="translate(224.93 376.26) scale(0.88 1)">65</text>
<text x="224.93" y="382.26" font-size="4.3" text-anchor="middle" fill="#000" font-weight="normal" font-style="italic">KMT2A</text>
<text x="0" y="0" font-size="4.8" text-anchor="middle" fill="#111" transform="translate(240.77 376.26) scale(0.88 1)">72.5</text>
<text x="240.77" y="382.26" font-size="4.3" text-anchor="middle" fill="#000" font-weight="normal" font-style="italic">PhLike</text>
<text x="0" y="0" font-size="4.8" text-anchor="middle" fill="#111" transform="translate(256.60 376.26) scale(0.88 1)">71</text>
<text x="256.60" y="382.26" font-size="4.3" text-anchor="middle" fill="#000" font-weight="normal" font-style="italic">PhLike</text>
<text x="0" y="0" font-size="4.8" text-anchor="middle" fill="#111" transform="translate(272.44 376.26) scale(0.88 1)">75.7</text>
<text x="272.44" y="382.26" font-size="4.3" text-anchor="middle" fill="#000" font-weight="normal" font-style="italic">Ph-</text>
<text x="0" y="0" font-size="4.8" text-anchor="middle" fill="#111" transform="translate(288.27 376.26) scale(0.88 1)">81.3</text>
<text x="288.27" y="382.26" font-size="4.3" text-anchor="middle" fill="#000" font-weight="normal" font-style="italic">Ph-</text>
<text x="0" y="0" font-size="4.8" text-anchor="middle" fill="#111" transform="translate(304.11 376.26) scale(0.88 1)">74.1</text>
<text x="304.11" y="382.26" font-size="4.3" text-anchor="middle" fill="#000" font-weight="normal" font-style="italic">Ph-</text>
<text x="0" y="0" font-size="4.8" text-anchor="middle" fill="#111" transform="translate(319.94 376.26) scale(0.88 1)">93.7</text>
<text x="319.94" y="382.26" font-size="4.3" text-anchor="middle" fill="#000" font-weight="normal" font-style="italic">Ph-</text>
<text x="0" y="0" font-size="4.8" text-anchor="middle" fill="#111" transform="translate(335.78 376.26) scale(0.88 1)">65</text>
<text x="335.78" y="382.26" font-size="4.3" text-anchor="middle" fill="#000" font-weight="normal" font-style="italic">Ph-</text>
<text x="0" y="0" font-size="4.8" text-anchor="middle" fill="#111" transform="translate(351.61 376.26) scale(0.88 1)">87.3</text>
<text x="351.61" y="382.26" font-size="4.3" text-anchor="middle" fill="#000" font-weight="normal" font-style="italic">Ph-</text>
<text x="0" y="0" font-size="4.8" text-anchor="middle" fill="#111" transform="translate(367.45 376.26) scale(0.88 1)">80.3</text>
<text x="367.45" y="382.26" font-size="4.3" text-anchor="middle" fill="#000" font-weight="normal" font-style="italic">Ph-</text>
<text x="0" y="0" font-size="4.8" text-anchor="middle" fill="#111" transform="translate(383.28 376.26) scale(0.88 1)">82</text>
<text x="383.28" y="382.26" font-size="4.3" text-anchor="middle" fill="#000" font-weight="normal" font-style="italic">Ph-</text>
<text x="0" y="0" font-size="4.8" text-anchor="middle" fill="#111" transform="translate(399.12 376.26) scale(0.88 1)">86.2</text>
<text x="399.12" y="382.26" font-size="4.3" text-anchor="middle" fill="#000" font-weight="normal" font-style="italic">Ph-</text>
<text x="0" y="0" font-size="4.8" text-anchor="middle" fill="#111" transform="translate(414.95 376.26) scale(0.88 1)">88</text>
<text x="414.95" y="382.26" font-size="4.3" text-anchor="middle" fill="#000" font-weight="normal" font-style="italic">Ph-</text>
<text x="0" y="0" font-size="4.8" text-anchor="middle" fill="#111" transform="translate(430.79 376.26) scale(0.88 1)">70.6</text>
<text x="430.79" y="382.26" font-size="4.3" text-anchor="middle" fill="#000" font-weight="normal" font-style="italic">Ph-</text>
<text x="0" y="0" font-size="4.8" text-anchor="middle" fill="#111" transform="translate(446.62 376.26) scale(0.88 1)">79.9</text>
<text x="446.62" y="382.26" font-size="4.3" text-anchor="middle" fill="#000" font-weight="normal" font-style="italic">Ph-</text>
<text x="458.00" y="211.70" font-size="6.4" text-anchor="start" fill="#111" font-weight="normal">LC50 (uM)</text>
<rect x="470.50" y="217.50" width="9.00" height="21.30" fill="url(#lgA)"/>
<text x="466.40" y="222.30" font-size="6.4" text-anchor="end" fill="#111" font-weight="normal">0.1</text>
<text x="466.40" y="230.30" font-size="6.4" text-anchor="end" fill="#111" font-weight="normal">1</text>
<text x="466.40" y="238.30" font-size="6.4" text-anchor="end" fill="#111" font-weight="normal">10</text>
<text x="7.70" y="410.40" font-size="13.4" text-anchor="start" fill="#000" font-weight="bold">C</text>
<text x="66.40" y="408.80" font-size="8.5" text-anchor="start" fill="#111" font-weight="normal">SVM-linear weights by absolute value</text>
<rect x="70.00" y="413.60" width="134.60" height="5.80" fill="#5a97ae"/>
<line x1="60.60" y1="416.50" x2="63.60" y2="416.50" stroke="#111" stroke-width="0.9"/>
<text x="57.00" y="418.90" font-size="6.9" text-anchor="end" fill="#111" font-weight="normal">BCL2</text>
<rect x="70.00" y="420.36" width="108.30" height="5.80" fill="#5a97ae"/>
<line x1="60.60" y1="423.26" x2="63.60" y2="423.26" stroke="#111" stroke-width="0.9"/>
<text x="57.00" y="425.66" font-size="6.9" text-anchor="end" fill="#111" font-weight="normal">MCL1</text>
<rect x="70.00" y="427.12" width="98.70" height="5.80" fill="#5a97ae"/>
<line x1="60.60" y1="430.02" x2="63.60" y2="430.02" stroke="#111" stroke-width="0.9"/>
<text x="57.00" y="432.42" font-size="6.9" text-anchor="end" fill="#111" font-weight="normal">BCL2L2</text>
<rect x="70.00" y="433.88" width="83.80" height="5.80" fill="#5a97ae"/>
<line x1="60.60" y1="436.78" x2="63.60" y2="436.78" stroke="#111" stroke-width="0.9"/>
<text x="57.00" y="439.18" font-size="6.9" text-anchor="end" fill="#111" font-weight="normal">BCL2L1</text>
<rect x="70.00" y="440.64" width="83.80" height="5.80" fill="#98a05a"/>
<line x1="60.60" y1="443.54" x2="63.60" y2="443.54" stroke="#111" stroke-width="0.9"/>
<text x="57.00" y="445.94" font-size="6.9" text-anchor="end" fill="#111" font-weight="normal">BCAP31</text>
<rect x="70.00" y="447.40" width="59.90" height="5.80" fill="#2d4a6c"/>
<line x1="60.60" y1="450.30" x2="63.60" y2="450.30" stroke="#111" stroke-width="0.9"/>
<text x="57.00" y="452.70" font-size="6.9" text-anchor="end" fill="#111" font-weight="normal">BNIP3</text>
<rect x="70.00" y="454.16" width="53.90" height="5.80" fill="#dc9a38"/>
<line x1="60.60" y1="457.06" x2="63.60" y2="457.06" stroke="#111" stroke-width="0.9"/>
<text x="57.00" y="459.46" font-size="6.9" text-anchor="end" fill="#111" font-weight="normal">PMAIP1</text>
<rect x="70.00" y="460.92" width="51.20" height="5.80" fill="#98a05a"/>
<line x1="60.60" y1="463.82" x2="63.60" y2="463.82" stroke="#111" stroke-width="0.9"/>
<text x="57.00" y="466.22" font-size="6.9" text-anchor="end" fill="#111" font-weight="normal">BOK</text>
<rect x="70.00" y="467.68" width="48.20" height="5.80" fill="#6b1f45"/>
<line x1="60.60" y1="470.58" x2="63.60" y2="470.58" stroke="#111" stroke-width="0.9"/>
<text x="57.00" y="472.98" font-size="6.9" text-anchor="end" fill="#111" font-weight="normal">CASP7</text>
<rect x="70.00" y="474.44" width="47.70" height="5.80" fill="#dc9a38"/>
<line x1="60.60" y1="477.34" x2="63.60" y2="477.34" stroke="#111" stroke-width="0.9"/>
<text x="57.00" y="479.74" font-size="6.9" text-anchor="end" fill="#111" font-weight="normal">HRK</text>
<rect x="70.00" y="481.20" width="44.70" height="5.80" fill="#e2c232"/>
<line x1="60.60" y1="484.10" x2="63.60" y2="484.10" stroke="#111" stroke-width="0.9"/>
<text x="57.00" y="486.50" font-size="6.9" text-anchor="end" fill="#111" font-weight="normal">CASP9</text>
<rect x="70.00" y="487.96" width="41.70" height="5.80" fill="#dc9a38"/>
<line x1="60.60" y1="490.86" x2="63.60" y2="490.86" stroke="#111" stroke-width="0.9"/>
<text x="57.00" y="493.26" font-size="6.9" text-anchor="end" fill="#111" font-weight="normal">BMF</text>
<rect x="70.00" y="494.72" width="39.40" height="5.80" fill="#6b1f45"/>
<line x1="60.60" y1="497.62" x2="63.60" y2="497.62" stroke="#111" stroke-width="0.9"/>
<text x="57.00" y="500.02" font-size="6.9" text-anchor="end" fill="#111" font-weight="normal">CASP6</text>
<rect x="70.00" y="501.48" width="37.80" height="5.80" fill="#2d4a6c"/>
<line x1="60.60" y1="504.38" x2="63.60" y2="504.38" stroke="#111" stroke-width="0.9"/>
<text x="57.00" y="506.78" font-size="6.9" text-anchor="end" fill="#111" font-weight="normal">BNIP2</text>
<rect x="70.00" y="508.24" width="32.00" height="5.80" fill="#6b1f45"/>
<line x1="60.60" y1="511.14" x2="63.60" y2="511.14" stroke="#111" stroke-width="0.9"/>
<text x="57.00" y="513.54" font-size="6.9" text-anchor="end" fill="#111" font-weight="normal">CASP3</text>
<rect x="70.00" y="515.00" width="28.80" height="5.80" fill="#98a05a"/>
<line x1="60.60" y1="517.90" x2="63.60" y2="517.90" stroke="#111" stroke-width="0.9"/>
<text x="57.00" y="520.30" font-size="6.9" text-anchor="end" fill="#111" font-weight="normal">BAX</text>
<rect x="70.00" y="521.76" width="20.90" height="5.80" fill="#2d4a6c"/>
<line x1="60.60" y1="524.66" x2="63.60" y2="524.66" stroke="#111" stroke-width="0.9"/>
<text x="57.00" y="527.06" font-size="6.9" text-anchor="end" fill="#111" font-weight="normal">BNIP1</text>
<rect x="70.00" y="528.52" width="17.30" height="5.80" fill="#dc9a38"/>
<line x1="60.60" y1="531.42" x2="63.60" y2="531.42" stroke="#111" stroke-width="0.9"/>
<text x="57.00" y="533.82" font-size="6.9" text-anchor="end" fill="#111" font-weight="normal">BAD</text>
<rect x="70.00" y="535.28" width="17.30" height="5.80" fill="#98a05a"/>
<line x1="60.60" y1="538.18" x2="63.60" y2="538.18" stroke="#111" stroke-width="0.9"/>
<text x="57.00" y="540.58" font-size="6.9" text-anchor="end" fill="#111" font-weight="normal">BAK1</text>
<rect x="70.00" y="542.04" width="13.80" height="5.80" fill="#5a97ae"/>
<line x1="60.60" y1="544.94" x2="63.60" y2="544.94" stroke="#111" stroke-width="0.9"/>
<text x="57.00" y="547.34" font-size="6.9" text-anchor="end" fill="#111" font-weight="normal">BCL2L12</text>
<rect x="70.00" y="548.80" width="10.40" height="5.80" fill="#98a05a"/>
<line x1="60.60" y1="551.70" x2="63.60" y2="551.70" stroke="#111" stroke-width="0.9"/>
<text x="57.00" y="554.10" font-size="6.9" text-anchor="end" fill="#111" font-weight="normal">FEM1B</text>
<rect x="70.00" y="555.56" width="9.60" height="5.80" fill="#5a97ae"/>
<line x1="60.60" y1="558.46" x2="63.60" y2="558.46" stroke="#111" stroke-width="0.9"/>
<text x="57.00" y="560.86" font-size="6.9" text-anchor="end" fill="#111" font-weight="normal">BCL2A1</text>
<rect x="70.00" y="562.32" width="6.20" height="5.80" fill="#dc9a38"/>
<line x1="60.60" y1="565.22" x2="63.60" y2="565.22" stroke="#111" stroke-width="0.9"/>
<text x="57.00" y="567.62" font-size="6.9" text-anchor="end" fill="#111" font-weight="normal">BID</text>
<rect x="70.00" y="569.08" width="6.00" height="5.80" fill="#dc9a38"/>
<line x1="60.60" y1="571.98" x2="63.60" y2="571.98" stroke="#111" stroke-width="0.9"/>
<text x="57.00" y="574.38" font-size="6.9" text-anchor="end" fill="#111" font-weight="normal">BCL2L11</text>
<rect x="70.00" y="575.84" width="4.60" height="5.80" fill="#ebe09e"/>
<line x1="60.60" y1="578.74" x2="63.60" y2="578.74" stroke="#111" stroke-width="0.9"/>
<text x="57.00" y="581.14" font-size="6.9" text-anchor="end" fill="#111" font-weight="normal">RTL10</text>
<rect x="70.00" y="582.60" width="3.40" height="5.80" fill="#dc9a38"/>
<line x1="60.60" y1="585.50" x2="63.60" y2="585.50" stroke="#111" stroke-width="0.9"/>
<text x="57.00" y="587.90" font-size="6.9" text-anchor="end" fill="#111" font-weight="normal">BIK</text>
<rect x="70.00" y="589.36" width="3.20" height="5.80" fill="#dc9a38"/>
<line x1="60.60" y1="592.26" x2="63.60" y2="592.26" stroke="#111" stroke-width="0.9"/>
<text x="57.00" y="594.66" font-size="6.9" text-anchor="end" fill="#111" font-weight="normal">BBC3</text>
<rect x="70.00" y="596.12" width="1.80" height="5.80" fill="#98a05a"/>
<line x1="60.60" y1="599.02" x2="63.60" y2="599.02" stroke="#111" stroke-width="0.9"/>
<text x="57.00" y="601.42" font-size="6.9" text-anchor="end" fill="#111" font-weight="normal">MTCH1</text>
<rect x="70.00" y="602.88" width="1.80" height="5.80" fill="#98a05a"/>
<line x1="60.60" y1="605.78" x2="63.60" y2="605.78" stroke="#111" stroke-width="0.9"/>
<text x="57.00" y="608.18" font-size="6.9" text-anchor="end" fill="#111" font-weight="normal">BCL2L13</text>
<rect x="63.60" y="412.80" width="147.80" height="197.20" fill="none" stroke="#111" stroke-width="1.1"/>
<line x1="70.10" y1="610.00" x2="70.10" y2="612.60" stroke="#111" stroke-width="0.9"/>
<text x="70.10" y="622.60" font-size="6.3" text-anchor="middle" fill="#111" font-weight="normal">0.0</text>
<line x1="115.40" y1="610.00" x2="115.40" y2="612.60" stroke="#111" stroke-width="0.9"/>
<text x="115.40" y="622.60" font-size="6.3" text-anchor="middle" fill="#111" font-weight="normal">0.2</text>
<line x1="160.70" y1="610.00" x2="160.70" y2="612.60" stroke="#111" stroke-width="0.9"/>
<text x="160.70" y="622.60" font-size="6.3" text-anchor="middle" fill="#111" font-weight="normal">0.4</text>
<text x="137.30" y="634.60" font-size="8.6" text-anchor="middle" fill="#222" font-weight="bold" transform="translate(137.3 0) scale(0.65 1) translate(-137.3 0)">Absolute weight</text>
<rect x="80.00" y="646.40" width="9.20" height="9.02" fill="#2d4a6c"/>
<text x="91.80" y="652.80" font-size="5.45" text-anchor="start" fill="#111" font-weight="normal">Intrinsic Bcl-2 binding Pro-death/Undefined</text>
<rect x="80.00" y="655.42" width="9.20" height="9.02" fill="#ebe09e"/>
<text x="91.80" y="661.82" font-size="5.45" text-anchor="start" fill="#111" font-weight="normal">Intrinsic Bcl-2 family BH3-only</text>
<rect x="80.00" y="664.44" width="9.20" height="9.02" fill="#98a05a"/>
<text x="91.80" y="670.84" font-size="5.45" text-anchor="start" fill="#111" font-weight="normal">Intrinsic Bcl-2 family Pro-death</text>
<rect x="80.00" y="673.46" width="9.20" height="9.02" fill="#5a97ae"/>
<text x="91.80" y="679.86" font-size="5.45" text-anchor="start" fill="#111" font-weight="normal">Intrinsic Bcl-2 family Anti-apoptotic</text>
<rect x="80.00" y="682.48" width="9.20" height="9.02" fill="#dc9a38"/>
<text x="91.80" y="688.88" font-size="5.45" text-anchor="start" fill="#111" font-weight="normal">Intrinsic BH3-only</text>
<rect x="80.00" y="691.50" width="9.20" height="9.02" fill="#6b1f45"/>
<text x="91.80" y="697.90" font-size="5.45" text-anchor="start" fill="#111" font-weight="normal">Intrinsic Effector caspase</text>
<rect x="80.00" y="700.52" width="9.20" height="9.02" fill="#e2c232"/>
<text x="91.80" y="706.92" font-size="5.45" text-anchor="start" fill="#111" font-weight="normal">Intrinsic Initiator caspase</text>
<text x="312.30" y="408.40" font-size="8.5" text-anchor="middle" fill="#111" font-weight="normal">grplasso penalty</text>
<rect x="261.75" y="413.00" width="16.91" height="7.60" fill="#eeeef4"/>
<rect x="278.56" y="413.00" width="16.91" height="7.60" fill="#dcdcee"/>
<rect x="295.37" y="413.00" width="16.91" height="7.60" fill="#c4c6e6"/>
<rect x="312.18" y="413.00" width="16.91" height="7.60" fill="#a8a8d6"/>
<rect x="328.98" y="413.00" width="16.91" height="7.60" fill="#8484c4"/>
<rect x="345.79" y="413.00" width="16.91" height="7.60" fill="#64469a"/>
<rect x="261.75" y="422.30" width="100.85" height="268.20" fill="#2e2558"/>
<rect x="253.00" y="422.30" width="7.60" height="27.74" fill="#2d4a6c"/>
<rect x="253.00" y="450.04" width="7.60" height="9.25" fill="#ebe09e"/>
<rect x="253.00" y="459.29" width="7.60" height="64.74" fill="#98a05a"/>
<rect x="253.00" y="524.03" width="7.60" height="55.49" fill="#5a97ae"/>
<rect x="253.00" y="579.52" width="7.60" height="73.99" fill="#dc9a38"/>
<rect x="253.00" y="653.51" width="7.60" height="27.74" fill="#6b1f45"/>
<rect x="253.00" y="681.25" width="7.60" height="9.25" fill="#e2c232"/>
<rect x="261.75" y="422.30" width="17.16" height="9.60" fill="#e8c060"/>
<rect x="278.56" y="422.30" width="17.16" height="9.60" fill="#e0a048"/>
<rect x="295.37" y="422.30" width="17.16" height="9.60" fill="#c82654"/>
<text x="249.60" y="429.42" font-size="6.9" text-anchor="end" fill="#111" font-weight="normal">BNIP1</text>
<rect x="261.75" y="431.55" width="17.16" height="9.60" fill="#e8c060"/>
<rect x="278.56" y="431.55" width="17.16" height="9.60" fill="#cc6048"/>
<rect x="295.37" y="431.55" width="17.16" height="9.60" fill="#b83860"/>
<text x="249.60" y="438.67" font-size="6.9" text-anchor="end" fill="#111" font-weight="normal">BNIP2</text>
<rect x="261.75" y="440.80" width="17.16" height="9.60" fill="#e0b058"/>
<rect x="278.56" y="440.80" width="17.16" height="9.60" fill="#e09a50"/>
<rect x="295.37" y="440.80" width="17.16" height="9.60" fill="#c82654"/>
<text x="249.60" y="447.92" font-size="6.9" text-anchor="end" fill="#111" font-weight="normal">BNIP3</text>
<text x="249.60" y="457.17" font-size="6.9" text-anchor="end" fill="#111" font-weight="normal">RTL10</text>
<rect x="261.75" y="459.29" width="17.16" height="9.60" fill="#c82a58"/>
<text x="249.60" y="466.42" font-size="6.9" text-anchor="end" fill="#111" font-weight="normal">FEM1B</text>
<rect x="261.75" y="468.54" width="17.16" height="9.60" fill="#a04070"/>
<text x="249.60" y="475.67" font-size="6.9" text-anchor="end" fill="#111" font-weight="normal">BCAP31</text>
<rect x="261.75" y="477.79" width="17.16" height="9.60" fill="#c83c52"/>
<text x="249.60" y="484.91" font-size="6.9" text-anchor="end" fill="#111" font-weight="normal">MTCH1</text>
<rect x="261.75" y="487.04" width="17.16" height="9.60" fill="#c83058"/>
<text x="249.60" y="494.16" font-size="6.9" text-anchor="end" fill="#111" font-weight="normal">BOK</text>
<rect x="261.75" y="496.29" width="17.16" height="9.60" fill="#b03a68"/>
<text x="249.60" y="503.41" font-size="6.9" text-anchor="end" fill="#111" font-weight="normal">BAX</text>
<rect x="261.75" y="505.53" width="17.16" height="9.60" fill="#904a78"/>
<text x="249.60" y="512.66" font-size="6.9" text-anchor="end" fill="#111" font-weight="normal">BAK1</text>
<rect x="261.75" y="514.78" width="17.16" height="9.60" fill="#c82c55"/>
<text x="249.60" y="521.91" font-size="6.9" text-anchor="end" fill="#111" font-weight="normal">BCL2L13</text>
<rect x="261.75" y="524.03" width="17.16" height="9.60" fill="#c03060"/>
<rect x="278.56" y="524.03" width="17.16" height="9.60" fill="#d86c48"/>
<rect x="295.37" y="524.03" width="17.16" height="9.60" fill="#d46848"/>
<rect x="312.18" y="524.03" width="17.16" height="9.60" fill="#c82c55"/>
<rect x="328.98" y="524.03" width="17.16" height="9.60" fill="#a84070"/>
<text x="249.60" y="531.16" font-size="6.9" text-anchor="end" fill="#111" font-weight="normal">BCL2</text>
<rect x="261.75" y="533.28" width="17.16" height="9.60" fill="#cc4c4a"/>
<rect x="278.56" y="533.28" width="17.16" height="9.60" fill="#cc4c4a"/>
<rect x="295.37" y="533.28" width="17.16" height="9.60" fill="#c83c52"/>
<rect x="312.18" y="533.28" width="17.16" height="9.60" fill="#c83058"/>
<rect x="328.98" y="533.28" width="17.16" height="9.60" fill="#b03868"/>
<text x="249.60" y="540.40" font-size="6.9" text-anchor="end" fill="#111" font-weight="normal">BCL2A1</text>
<rect x="261.75" y="542.53" width="17.16" height="9.60" fill="#cc544a"/>
<rect x="278.56" y="542.53" width="17.16" height="9.60" fill="#d89a50"/>
<rect x="295.37" y="542.53" width="17.16" height="9.60" fill="#d46848"/>
<rect x="312.18" y="542.53" width="17.16" height="9.60" fill="#c82c55"/>
<rect x="328.98" y="542.53" width="17.16" height="9.60" fill="#a04878"/>
<text x="249.60" y="549.65" font-size="6.9" text-anchor="end" fill="#111" font-weight="normal">BCL2L1</text>
<rect x="261.75" y="551.78" width="17.16" height="9.60" fill="#a04878"/>
<rect x="278.56" y="551.78" width="17.16" height="9.60" fill="#c83c52"/>
<rect x="295.37" y="551.78" width="17.16" height="9.60" fill="#c82c55"/>
<rect x="312.18" y="551.78" width="17.16" height="9.60" fill="#c03860"/>
<rect x="328.98" y="551.78" width="17.16" height="9.60" fill="#a04878"/>
<text x="249.60" y="558.90" font-size="6.9" text-anchor="end" fill="#111" font-weight="normal">BCL2L2</text>
<rect x="261.75" y="561.02" width="17.16" height="9.60" fill="#c82c55"/>
<rect x="278.56" y="561.02" width="17.16" height="9.60" fill="#d89a50"/>
<rect x="295.37" y="561.02" width="17.16" height="9.60" fill="#d89a50"/>
<rect x="312.18" y="561.02" width="17.16" height="9.60" fill="#cc4c4a"/>
<rect x="328.98" y="561.02" width="17.16" height="9.60" fill="#c83858"/>
<text x="249.60" y="568.15" font-size="6.9" text-anchor="end" fill="#111" font-weight="normal">MCL1</text>
<rect x="261.75" y="570.27" width="17.16" height="9.60" fill="#a04878"/>
<rect x="278.56" y="570.27" width="17.16" height="9.60" fill="#c83c52"/>
<rect x="295.37" y="570.27" width="17.16" height="9.60" fill="#d03048"/>
<rect x="312.18" y="570.27" width="17.16" height="9.60" fill="#c03860"/>
<rect x="328.98" y="570.27" width="17.16" height="9.60" fill="#984878"/>
<text x="249.60" y="577.40" font-size="6.9" text-anchor="end" fill="#111" font-weight="normal">BCL2L12</text>
<rect x="261.75" y="579.52" width="17.16" height="9.60" fill="#c82654"/>
<rect x="278.56" y="579.52" width="17.16" height="9.60" fill="#b83868"/>
<rect x="295.37" y="579.52" width="17.16" height="9.60" fill="#b83868"/>
<rect x="312.18" y="579.52" width="17.16" height="9.60" fill="#b83868"/>
<rect x="328.98" y="579.52" width="17.16" height="9.60" fill="#b03868"/>
<rect x="345.79" y="579.52" width="16.81" height="9.60" fill="#a84070"/>
<text x="249.60" y="586.64" font-size="6.9" text-anchor="end" fill="#111" font-weight="normal">BAD</text>
<rect x="261.75" y="588.77" width="17.16" height="9.60" fill="#c82654"/>
<rect x="278.56" y="588.77" width="17.16" height="9.60" fill="#904a80"/>
<rect x="295.37" y="588.77" width="17.16" height="9.60" fill="#b04070"/>
<rect x="312.18" y="588.77" width="17.16" height="9.60" fill="#a84878"/>
<rect x="328.98" y="588.77" width="17.16" height="9.60" fill="#a84878"/>
<rect x="345.79" y="588.77" width="16.81" height="9.60" fill="#a04878"/>
<text x="249.60" y="595.89" font-size="6.9" text-anchor="end" fill="#111" font-weight="normal">BID</text>
<rect x="261.75" y="598.02" width="17.16" height="9.60" fill="#c82654"/>
<rect x="278.56" y="598.02" width="17.16" height="9.60" fill="#c82a58"/>
<rect x="295.37" y="598.02" width="17.16" height="9.60" fill="#c03060"/>
<rect x="312.18" y="598.02" width="17.16" height="9.60" fill="#b03a68"/>
<rect x="328.98" y="598.02" width="17.16" height="9.60" fill="#a84070"/>
<rect x="345.79" y="598.02" width="16.81" height="9.60" fill="#a04878"/>
<text x="249.60" y="605.14" font-size="6.9" text-anchor="end" fill="#111" font-weight="normal">BIK</text>
<rect x="261.75" y="607.27" width="17.16" height="9.60" fill="#cc6048"/>
<rect x="278.56" y="607.27" width="17.16" height="9.60" fill="#d0604a"/>
<rect x="295.37" y="607.27" width="17.16" height="9.60" fill="#cc4050"/>
<rect x="312.18" y="607.27" width="17.16" height="9.60" fill="#c82c55"/>
<rect x="328.98" y="607.27" width="17.16" height="9.60" fill="#c82654"/>
<rect x="345.79" y="607.27" width="16.81" height="9.60" fill="#c82850"/>
<text x="249.60" y="614.39" font-size="6.9" text-anchor="end" fill="#111" font-weight="normal">HRK</text>
<rect x="261.75" y="616.51" width="17.16" height="9.60" fill="#c84a4c"/>
<rect x="278.56" y="616.51" width="17.16" height="9.60" fill="#c82c55"/>
<rect x="295.37" y="616.51" width="17.16" height="9.60" fill="#c83058"/>
<rect x="312.18" y="616.51" width="17.16" height="9.60" fill="#c83058"/>
<rect x="328.98" y="616.51" width="17.16" height="9.60" fill="#b83060"/>
<rect x="345.79" y="616.51" width="16.81" height="9.60" fill="#b03868"/>
<text x="249.60" y="623.64" font-size="6.9" text-anchor="end" fill="#111" font-weight="normal">BMF</text>
<rect x="261.75" y="625.76" width="17.16" height="9.60" fill="#c83060"/>
<rect x="278.56" y="625.76" width="17.16" height="9.60" fill="#b04070"/>
<rect x="295.37" y="625.76" width="17.16" height="9.60" fill="#a84070"/>
<rect x="312.18" y="625.76" width="17.16" height="9.60" fill="#a04878"/>
<rect x="328.98" y="625.76" width="17.16" height="9.60" fill="#984878"/>
<rect x="345.79" y="625.76" width="16.81" height="9.60" fill="#984878"/>
<text x="249.60" y="632.89" font-size="6.9" text-anchor="end" fill="#111" font-weight="normal">PMAIP1</text>
<rect x="261.75" y="635.01" width="17.16" height="9.60" fill="#c84a4c"/>
<rect x="278.56" y="635.01" width="17.16" height="9.60" fill="#c82c55"/>
<rect x="295.37" y="635.01" width="17.16" height="9.60" fill="#c03060"/>
<rect x="312.18" y="635.01" width="17.16" height="9.60" fill="#c03060"/>
<rect x="328.98" y="635.01" width="17.16" height="9.60" fill="#b03868"/>
<rect x="345.79" y="635.01" width="16.81" height="9.60" fill="#a84070"/>
<text x="249.60" y="642.13" font-size="6.9" text-anchor="end" fill="#111" font-weight="normal">BBC3</text>
<rect x="261.75" y="644.26" width="17.16" height="9.60" fill="#a04878"/>
<rect x="278.56" y="644.26" width="17.16" height="9.60" fill="#984878"/>
<rect x="295.37" y="644.26" width="17.16" height="9.60" fill="#7e3078"/>
<rect x="312.18" y="644.26" width="17.16" height="9.60" fill="#6c2a6e"/>
<rect x="328.98" y="644.26" width="17.16" height="9.60" fill="#a04878"/>
<rect x="345.79" y="644.26" width="16.81" height="9.60" fill="#a04878"/>
<text x="249.60" y="651.38" font-size="6.9" text-anchor="end" fill="#111" font-weight="normal">BCL2L11</text>
<rect x="261.75" y="653.51" width="17.16" height="9.60" fill="#c82654"/>
<text x="249.60" y="660.63" font-size="6.9" text-anchor="end" fill="#111" font-weight="normal">CASP3</text>
<rect x="261.75" y="662.76" width="17.16" height="9.60" fill="#d03848"/>
<text x="249.60" y="669.88" font-size="6.9" text-anchor="end" fill="#111" font-weight="normal">CASP6</text>
<rect x="261.75" y="672.00" width="17.16" height="9.60" fill="#cc6048"/>
<text x="249.60" y="679.13" font-size="6.9" text-anchor="end" fill="#111" font-weight="normal">CASP7</text>
<text x="249.60" y="688.38" font-size="6.9" text-anchor="end" fill="#111" font-weight="normal">CASP9</text>
<text x="272.75" y="697.80" font-size="6.7" text-anchor="end" fill="#111" font-weight="normal" transform="rotate(-45 272.75 697.80)">lambda1</text>
<text x="289.56" y="697.80" font-size="6.7" text-anchor="end" fill="#111" font-weight="normal" transform="rotate(-45 289.56 697.80)">lambda2</text>
<text x="306.37" y="697.80" font-size="6.7" text-anchor="end" fill="#111" font-weight="normal" transform="rotate(-45 306.37 697.80)">lambda3</text>
<text x="323.18" y="697.80" font-size="6.7" text-anchor="end" fill="#111" font-weight="normal" transform="rotate(-45 323.18 697.80)">lambda4</text>
<text x="339.99" y="697.80" font-size="6.7" text-anchor="end" fill="#111" font-weight="normal" transform="rotate(-45 339.99 697.80)">lambda5</text>
<text x="356.80" y="697.80" font-size="6.7" text-anchor="end" fill="#111" font-weight="normal" transform="rotate(-45 356.80 697.80)">lambda6</text>
<rect x="407.70" y="399.40" width="104.70" height="15.00" fill="#cdd0ec" stroke="#111" stroke-width="1.0"/>
<text x="460.00" y="410.20" font-size="8.4" text-anchor="middle" fill="#111" font-weight="normal">lambda3</text>
<rect x="437.80" y="415.75" width="69.90" height="5.70" fill="#5a97ae"/>
<line x1="402.60" y1="418.60" x2="407.70" y2="418.60" stroke="#111" stroke-width="0.9"/>
<text x="401.00" y="421.00" font-size="6.9" text-anchor="end" fill="#111" font-weight="normal">MCL1</text>
<rect x="437.80" y="422.53" width="40.00" height="5.70" fill="#5a97ae"/>
<line x1="402.60" y1="425.38" x2="407.70" y2="425.38" stroke="#111" stroke-width="0.9"/>
<text x="401.00" y="427.78" font-size="6.9" text-anchor="end" fill="#111" font-weight="normal">BCL2</text>
<rect x="437.80" y="429.31" width="39.10" height="5.70" fill="#5a97ae"/>
<line x1="402.60" y1="432.16" x2="407.70" y2="432.16" stroke="#111" stroke-width="0.9"/>
<text x="401.00" y="434.56" font-size="6.9" text-anchor="end" fill="#111" font-weight="normal">BCL2L1</text>
<rect x="437.80" y="436.09" width="26.80" height="5.70" fill="#5a97ae"/>
<line x1="402.60" y1="438.94" x2="407.70" y2="438.94" stroke="#111" stroke-width="0.9"/>
<text x="401.00" y="441.34" font-size="6.9" text-anchor="end" fill="#111" font-weight="normal">BCL2A1</text>
<rect x="437.80" y="442.87" width="23.70" height="5.70" fill="#5a97ae"/>
<line x1="402.60" y1="445.72" x2="407.70" y2="445.72" stroke="#111" stroke-width="0.9"/>
<text x="401.00" y="448.12" font-size="6.9" text-anchor="end" fill="#111" font-weight="normal">BCL2L12</text>
<rect x="437.80" y="449.65" width="16.70" height="5.70" fill="#5a97ae"/>
<line x1="402.60" y1="452.50" x2="407.70" y2="452.50" stroke="#111" stroke-width="0.9"/>
<text x="401.00" y="454.90" font-size="6.9" text-anchor="end" fill="#111" font-weight="normal">BCL2L2</text>
<rect x="437.80" y="456.43" width="12.00" height="5.70" fill="#2d4a6c"/>
<line x1="402.60" y1="459.28" x2="407.70" y2="459.28" stroke="#111" stroke-width="0.9"/>
<text x="401.00" y="461.68" font-size="6.9" text-anchor="end" fill="#111" font-weight="normal">BNIP3</text>
<rect x="437.80" y="463.21" width="11.40" height="5.70" fill="#2d4a6c"/>
<line x1="402.60" y1="466.06" x2="407.70" y2="466.06" stroke="#111" stroke-width="0.9"/>
<text x="401.00" y="468.46" font-size="6.9" text-anchor="end" fill="#111" font-weight="normal">BNIP1</text>
<rect x="437.80" y="469.99" width="5.90" height="5.70" fill="#2d4a6c"/>
<line x1="402.60" y1="472.84" x2="407.70" y2="472.84" stroke="#111" stroke-width="0.9"/>
<text x="401.00" y="475.24" font-size="6.9" text-anchor="end" fill="#111" font-weight="normal">BNIP2</text>
<rect x="437.80" y="476.77" width="5.20" height="5.70" fill="#dc9a38"/>
<line x1="402.60" y1="479.62" x2="407.70" y2="479.62" stroke="#111" stroke-width="0.9"/>
<text x="401.00" y="482.02" font-size="6.9" text-anchor="end" fill="#111" font-weight="normal">BBC3</text>
<rect x="437.80" y="483.55" width="2.20" height="5.70" fill="#dc9a38"/>
<line x1="402.60" y1="486.40" x2="407.70" y2="486.40" stroke="#111" stroke-width="0.9"/>
<text x="401.00" y="488.80" font-size="6.9" text-anchor="end" fill="#111" font-weight="normal">BID</text>
<rect x="437.80" y="490.33" width="0.60" height="5.70" fill="#ebe09e"/>
<line x1="402.60" y1="493.18" x2="407.70" y2="493.18" stroke="#111" stroke-width="0.9"/>
<text x="401.00" y="495.58" font-size="6.9" text-anchor="end" fill="#111" font-weight="normal">BCL2L11</text>
<line x1="402.60" y1="499.96" x2="407.70" y2="499.96" stroke="#111" stroke-width="0.9"/>
<text x="401.00" y="502.36" font-size="6.9" text-anchor="end" fill="#111" font-weight="normal">RTL10</text>
<line x1="402.60" y1="506.74" x2="407.70" y2="506.74" stroke="#111" stroke-width="0.9"/>
<text x="401.00" y="509.14" font-size="6.9" text-anchor="end" fill="#111" font-weight="normal">MTCH1</text>
<line x1="402.60" y1="513.52" x2="407.70" y2="513.52" stroke="#111" stroke-width="0.9"/>
<text x="401.00" y="515.92" font-size="6.9" text-anchor="end" fill="#111" font-weight="normal">FEM1B</text>
<line x1="402.60" y1="520.30" x2="407.70" y2="520.30" stroke="#111" stroke-width="0.9"/>
<text x="401.00" y="522.70" font-size="6.9" text-anchor="end" fill="#111" font-weight="normal">CASP9</text>
<line x1="402.60" y1="527.08" x2="407.70" y2="527.08" stroke="#111" stroke-width="0.9"/>
<text x="401.00" y="529.48" font-size="6.9" text-anchor="end" fill="#111" font-weight="normal">CASP7</text>
<line x1="402.60" y1="533.86" x2="407.70" y2="533.86" stroke="#111" stroke-width="0.9"/>
<text x="401.00" y="536.26" font-size="6.9" text-anchor="end" fill="#111" font-weight="normal">CASP6</text>
<line x1="402.60" y1="540.64" x2="407.70" y2="540.64" stroke="#111" stroke-width="0.9"/>
<text x="401.00" y="543.04" font-size="6.9" text-anchor="end" fill="#111" font-weight="normal">CASP3</text>
<line x1="402.60" y1="547.42" x2="407.70" y2="547.42" stroke="#111" stroke-width="0.9"/>
<text x="401.00" y="549.82" font-size="6.9" text-anchor="end" fill="#111" font-weight="normal">BOK</text>
<line x1="402.60" y1="554.20" x2="407.70" y2="554.20" stroke="#111" stroke-width="0.9"/>
<text x="401.00" y="556.60" font-size="6.9" text-anchor="end" fill="#111" font-weight="normal">BCL2L13</text>
<line x1="402.60" y1="560.98" x2="407.70" y2="560.98" stroke="#111" stroke-width="0.9"/>
<text x="401.00" y="563.38" font-size="6.9" text-anchor="end" fill="#111" font-weight="normal">BCAP31</text>
<line x1="402.60" y1="567.76" x2="407.70" y2="567.76" stroke="#111" stroke-width="0.9"/>
<text x="401.00" y="570.16" font-size="6.9" text-anchor="end" fill="#111" font-weight="normal">BAX</text>
<line x1="402.60" y1="574.54" x2="407.70" y2="574.54" stroke="#111" stroke-width="0.9"/>
<text x="401.00" y="576.94" font-size="6.9" text-anchor="end" fill="#111" font-weight="normal">BAK1</text>
<rect x="434.80" y="578.47" width="3.00" height="5.70" fill="#dc9a38"/>
<line x1="402.60" y1="581.32" x2="407.70" y2="581.32" stroke="#111" stroke-width="0.9"/>
<text x="401.00" y="583.72" font-size="6.9" text-anchor="end" fill="#111" font-weight="normal">PMAIP1</text>
<rect x="432.90" y="585.25" width="4.90" height="5.70" fill="#dc9a38"/>
<line x1="402.60" y1="588.10" x2="407.70" y2="588.10" stroke="#111" stroke-width="0.9"/>
<text x="401.00" y="590.50" font-size="6.9" text-anchor="end" fill="#111" font-weight="normal">BIK</text>
<rect x="432.90" y="592.03" width="4.90" height="5.70" fill="#dc9a38"/>
<line x1="402.60" y1="594.88" x2="407.70" y2="594.88" stroke="#111" stroke-width="0.9"/>
<text x="401.00" y="597.28" font-size="6.9" text-anchor="end" fill="#111" font-weight="normal">BAD</text>
<rect x="430.20" y="598.81" width="7.60" height="5.70" fill="#dc9a38"/>
<line x1="402.60" y1="601.66" x2="407.70" y2="601.66" stroke="#111" stroke-width="0.9"/>
<text x="401.00" y="604.06" font-size="6.9" text-anchor="end" fill="#111" font-weight="normal">BMF</text>
<rect x="412.30" y="605.59" width="25.50" height="5.70" fill="#dc9a38"/>
<line x1="402.60" y1="608.44" x2="407.70" y2="608.44" stroke="#111" stroke-width="0.9"/>
<text x="401.00" y="610.84" font-size="6.9" text-anchor="end" fill="#111" font-weight="normal">HRK</text>
<rect x="407.70" y="414.40" width="104.70" height="198.60" fill="none" stroke="#111" stroke-width="1.1"/>
<line x1="437.60" y1="613.00" x2="437.60" y2="615.60" stroke="#111" stroke-width="0.9"/>
<text x="437.60" y="625.30" font-size="6.3" text-anchor="middle" fill="#111" font-weight="normal">0.00</text>
<line x1="476.10" y1="613.00" x2="476.10" y2="615.60" stroke="#111" stroke-width="0.9"/>
<text x="476.10" y="625.30" font-size="6.3" text-anchor="middle" fill="#111" font-weight="normal">0.05</text>
<text x="460.40" y="636.60" font-size="8.6" text-anchor="middle" fill="#222" font-weight="bold" transform="translate(460.4 0) scale(0.65 1) translate(-460.4 0)">Coefficient</text>
<rect x="0.5" y="0.5" width="519" height="722" fill="none" stroke="#000" stroke-width="1.4"/>
</svg>
</body></html>
